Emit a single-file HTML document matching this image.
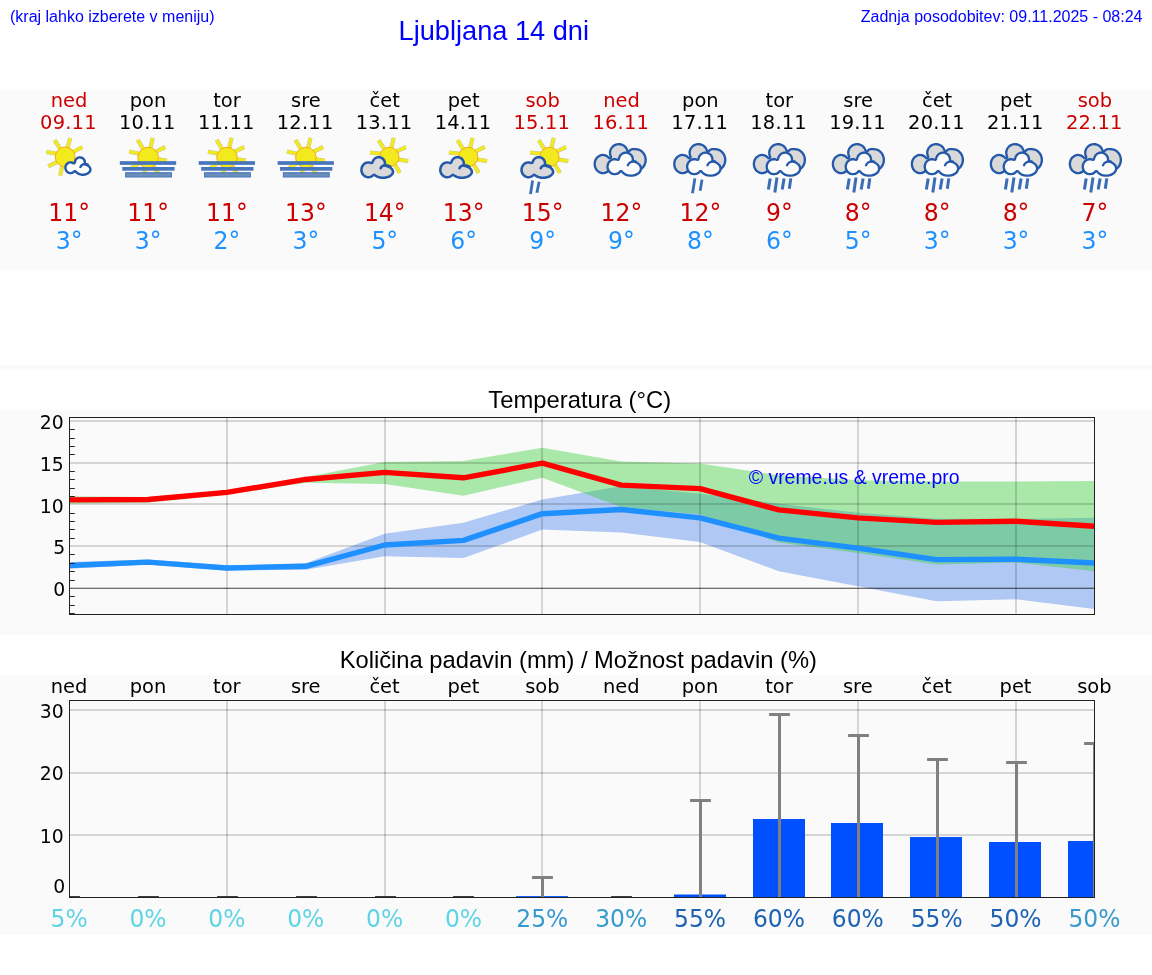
<!DOCTYPE html>
<html lang="sl"><head><meta charset="utf-8"><title>Ljubljana 14 dni</title>
<style>html,body{margin:0;padding:0;background:#fff;overflow:hidden}svg{display:block;will-change:transform}.dj{font-family:"DejaVu Sans","Liberation Sans",sans-serif}.ls{font-family:"Liberation Sans",Arial,sans-serif}</style></head><body>
<svg width="1152" height="975" viewBox="0 0 1152 975">
<rect x="0" y="90" width="1152" height="180" fill="#fafafa"/>
<rect x="0" y="365" width="1152" height="5" fill="#fafafa"/>
<rect x="0" y="410" width="1152" height="225" fill="#fafafa"/>
<rect x="0" y="675" width="1152" height="260" fill="#fafafa"/>
<text class="ls" x="10" y="21.5" font-size="16" fill="#0000ff">(kraj lahko izberete v meniju)</text>
<text class="ls" x="493.8" y="39.5" font-size="27.2" fill="#0000ff" text-anchor="middle">Ljubljana 14 dni</text>
<text class="ls" x="1142.5" y="21.5" font-size="16" fill="#0000ff" text-anchor="end">Zadnja posodobitev: 09.11.2025 - 08:24</text>
<text class="dj" x="69.12" y="107.2" font-size="19.44" fill="#cc0000" text-anchor="middle">ned</text>
<text class="dj" x="68.42" y="129.3" font-size="19.44" letter-spacing="0.2" fill="#cc0000" text-anchor="middle">09.11</text>
<text class="dj" transform="translate(69.12 221.1) scale(.966 1)" font-size="24.4" fill="#cc0000" text-anchor="middle">11°</text>
<text class="dj" transform="translate(69.12 248.9) scale(.966 1)" font-size="24.4" fill="#1e90ff" text-anchor="middle">3°</text>
<text class="dj" x="148.03" y="107.2" font-size="19.44" fill="#000000" text-anchor="middle">pon</text>
<text class="dj" x="147.33" y="129.3" font-size="19.44" letter-spacing="0.2" fill="#000000" text-anchor="middle">10.11</text>
<text class="dj" transform="translate(148.03 221.1) scale(.966 1)" font-size="24.4" fill="#cc0000" text-anchor="middle">11°</text>
<text class="dj" transform="translate(148.03 248.9) scale(.966 1)" font-size="24.4" fill="#1e90ff" text-anchor="middle">3°</text>
<text class="dj" x="226.94" y="107.2" font-size="19.44" fill="#000000" text-anchor="middle">tor</text>
<text class="dj" x="226.24" y="129.3" font-size="19.44" letter-spacing="0.2" fill="#000000" text-anchor="middle">11.11</text>
<text class="dj" transform="translate(226.94 221.1) scale(.966 1)" font-size="24.4" fill="#cc0000" text-anchor="middle">11°</text>
<text class="dj" transform="translate(226.94 248.9) scale(.966 1)" font-size="24.4" fill="#1e90ff" text-anchor="middle">2°</text>
<text class="dj" x="305.84" y="107.2" font-size="19.44" fill="#000000" text-anchor="middle">sre</text>
<text class="dj" x="305.14" y="129.3" font-size="19.44" letter-spacing="0.2" fill="#000000" text-anchor="middle">12.11</text>
<text class="dj" transform="translate(305.84 221.1) scale(.966 1)" font-size="24.4" fill="#cc0000" text-anchor="middle">13°</text>
<text class="dj" transform="translate(305.84 248.9) scale(.966 1)" font-size="24.4" fill="#1e90ff" text-anchor="middle">3°</text>
<text class="dj" x="384.75" y="107.2" font-size="19.44" fill="#000000" text-anchor="middle">čet</text>
<text class="dj" x="384.05" y="129.3" font-size="19.44" letter-spacing="0.2" fill="#000000" text-anchor="middle">13.11</text>
<text class="dj" transform="translate(384.75 221.1) scale(.966 1)" font-size="24.4" fill="#cc0000" text-anchor="middle">14°</text>
<text class="dj" transform="translate(384.75 248.9) scale(.966 1)" font-size="24.4" fill="#1e90ff" text-anchor="middle">5°</text>
<text class="dj" x="463.66" y="107.2" font-size="19.44" fill="#000000" text-anchor="middle">pet</text>
<text class="dj" x="462.96" y="129.3" font-size="19.44" letter-spacing="0.2" fill="#000000" text-anchor="middle">14.11</text>
<text class="dj" transform="translate(463.66 221.1) scale(.966 1)" font-size="24.4" fill="#cc0000" text-anchor="middle">13°</text>
<text class="dj" transform="translate(463.66 248.9) scale(.966 1)" font-size="24.4" fill="#1e90ff" text-anchor="middle">6°</text>
<text class="dj" x="542.57" y="107.2" font-size="19.44" fill="#cc0000" text-anchor="middle">sob</text>
<text class="dj" x="541.87" y="129.3" font-size="19.44" letter-spacing="0.2" fill="#cc0000" text-anchor="middle">15.11</text>
<text class="dj" transform="translate(542.57 221.1) scale(.966 1)" font-size="24.4" fill="#cc0000" text-anchor="middle">15°</text>
<text class="dj" transform="translate(542.57 248.9) scale(.966 1)" font-size="24.4" fill="#1e90ff" text-anchor="middle">9°</text>
<text class="dj" x="621.47" y="107.2" font-size="19.44" fill="#cc0000" text-anchor="middle">ned</text>
<text class="dj" x="620.77" y="129.3" font-size="19.44" letter-spacing="0.2" fill="#cc0000" text-anchor="middle">16.11</text>
<text class="dj" transform="translate(621.47 221.1) scale(.966 1)" font-size="24.4" fill="#cc0000" text-anchor="middle">12°</text>
<text class="dj" transform="translate(621.47 248.9) scale(.966 1)" font-size="24.4" fill="#1e90ff" text-anchor="middle">9°</text>
<text class="dj" x="700.38" y="107.2" font-size="19.44" fill="#000000" text-anchor="middle">pon</text>
<text class="dj" x="699.68" y="129.3" font-size="19.44" letter-spacing="0.2" fill="#000000" text-anchor="middle">17.11</text>
<text class="dj" transform="translate(700.38 221.1) scale(.966 1)" font-size="24.4" fill="#cc0000" text-anchor="middle">12°</text>
<text class="dj" transform="translate(700.38 248.9) scale(.966 1)" font-size="24.4" fill="#1e90ff" text-anchor="middle">8°</text>
<text class="dj" x="779.29" y="107.2" font-size="19.44" fill="#000000" text-anchor="middle">tor</text>
<text class="dj" x="778.59" y="129.3" font-size="19.44" letter-spacing="0.2" fill="#000000" text-anchor="middle">18.11</text>
<text class="dj" transform="translate(779.29 221.1) scale(.966 1)" font-size="24.4" fill="#cc0000" text-anchor="middle">9°</text>
<text class="dj" transform="translate(779.29 248.9) scale(.966 1)" font-size="24.4" fill="#1e90ff" text-anchor="middle">6°</text>
<text class="dj" x="858.20" y="107.2" font-size="19.44" fill="#000000" text-anchor="middle">sre</text>
<text class="dj" x="857.50" y="129.3" font-size="19.44" letter-spacing="0.2" fill="#000000" text-anchor="middle">19.11</text>
<text class="dj" transform="translate(858.20 221.1) scale(.966 1)" font-size="24.4" fill="#cc0000" text-anchor="middle">8°</text>
<text class="dj" transform="translate(858.20 248.9) scale(.966 1)" font-size="24.4" fill="#1e90ff" text-anchor="middle">5°</text>
<text class="dj" x="937.10" y="107.2" font-size="19.44" fill="#000000" text-anchor="middle">čet</text>
<text class="dj" x="936.40" y="129.3" font-size="19.44" letter-spacing="0.2" fill="#000000" text-anchor="middle">20.11</text>
<text class="dj" transform="translate(937.10 221.1) scale(.966 1)" font-size="24.4" fill="#cc0000" text-anchor="middle">8°</text>
<text class="dj" transform="translate(937.10 248.9) scale(.966 1)" font-size="24.4" fill="#1e90ff" text-anchor="middle">3°</text>
<text class="dj" x="1016.01" y="107.2" font-size="19.44" fill="#000000" text-anchor="middle">pet</text>
<text class="dj" x="1015.31" y="129.3" font-size="19.44" letter-spacing="0.2" fill="#000000" text-anchor="middle">21.11</text>
<text class="dj" transform="translate(1016.01 221.1) scale(.966 1)" font-size="24.4" fill="#cc0000" text-anchor="middle">8°</text>
<text class="dj" transform="translate(1016.01 248.9) scale(.966 1)" font-size="24.4" fill="#1e90ff" text-anchor="middle">3°</text>
<text class="dj" x="1094.92" y="107.2" font-size="19.44" fill="#cc0000" text-anchor="middle">sob</text>
<text class="dj" x="1094.22" y="129.3" font-size="19.44" letter-spacing="0.2" fill="#cc0000" text-anchor="middle">22.11</text>
<text class="dj" transform="translate(1094.92 221.1) scale(.966 1)" font-size="24.4" fill="#cc0000" text-anchor="middle">7°</text>
<text class="dj" transform="translate(1094.92 248.9) scale(.966 1)" font-size="24.4" fill="#1e90ff" text-anchor="middle">3°</text>
<g transform="translate(39.00 135)"><line x1="21.13" y1="13.56" x2="15.69" y2="5.23" stroke="#c4c6b4" stroke-width="4.2"/><line x1="28.57" y1="13.46" x2="31.08" y2="3.08" stroke="#c4c6b4" stroke-width="4.2"/><line x1="34.06" y1="17.02" x2="43.38" y2="12.00" stroke="#c4c6b4" stroke-width="4.2"/><line x1="18.09" y1="18.71" x2="7.38" y2="16.92" stroke="#c4c6b4" stroke-width="4.2"/><line x1="19.19" y1="26.41" x2="9.23" y2="31.38" stroke="#c4c6b4" stroke-width="4.2"/><line x1="23.37" y1="29.91" x2="21.23" y2="40.62" stroke="#c4c6b4" stroke-width="4.2"/><line x1="21.13" y1="13.56" x2="15.69" y2="5.23" stroke="#f2ea1c" stroke-width="3.2"/><line x1="28.57" y1="13.46" x2="31.08" y2="3.08" stroke="#f2ea1c" stroke-width="3.2"/><line x1="34.06" y1="17.02" x2="43.38" y2="12.00" stroke="#f2ea1c" stroke-width="3.2"/><line x1="18.09" y1="18.71" x2="7.38" y2="16.92" stroke="#f2ea1c" stroke-width="3.2"/><line x1="19.19" y1="26.41" x2="9.23" y2="31.38" stroke="#f2ea1c" stroke-width="3.2"/><line x1="23.37" y1="29.91" x2="21.23" y2="40.62" stroke="#f2ea1c" stroke-width="3.2"/><circle cx="26.15" cy="21.85" r="9.9" fill="#f2ea1c" stroke="#f5a81c" stroke-width="1"/><path d="M47.1,27.2 46.9,25.8 46.4,24.5 45.5,23.3 45.0,22.8 44.3,22.3 43.1,21.6 41.7,21.3 40.9,21.2 40.1,21.3 38.8,21.6 38.0,22.0 37.2,22.5 36.4,23.2 35.9,23.8 35.4,24.7 35.1,25.4 34.9,26.2 34.8,27.1 33.7,26.6 32.7,26.3 31.7,26.2 30.7,26.2 29.7,26.4 28.7,26.8 27.9,27.4 27.1,28.1 26.5,28.7 26.0,29.6 25.6,30.6 25.4,31.5 25.2,32.3 25.2,33.2 25.4,34.0 25.6,35.1 26.3,36.4 26.8,37.1 27.4,37.7 28.0,38.2 28.7,38.6 30.1,39.2 30.9,39.3 31.7,39.3 32.5,39.2 33.3,39.0 34.1,38.7 34.8,38.3 36.0,37.4 36.8,38.4 38.0,39.3 39.4,40.1 41.0,40.6 42.7,40.9 44.4,40.9 46.1,40.7 47.7,40.3 48.7,39.8 49.8,39.2 50.6,38.6 51.4,37.7 52.1,36.7 52.4,35.9 52.6,35.1 52.6,34.3 52.5,33.4 52.2,32.6 51.8,31.8 51.4,31.2 50.6,30.4 49.6,29.6 48.5,29.0 47.0,28.4Z" fill="#2458a8"/><path d="M33.7,36.2 34.8,35.3 35.4,35.0 36.1,35.0 36.6,35.1 37.4,35.5 38.4,36.5 39.0,37.1 40.4,37.8 41.4,38.2 42.4,38.4 43.6,38.5 44.7,38.5 45.8,38.3 46.9,38.0 47.8,37.6 48.8,37.0 49.5,36.3 49.9,35.6 50.2,35.0 50.2,34.3 50.1,33.6 49.8,33.1 49.4,32.5 48.9,32.0 47.6,31.2 45.9,30.6 45.5,30.3 45.0,29.8 44.8,29.4 44.6,28.7 44.7,27.3 44.5,26.4 44.2,25.6 43.7,24.8 43.0,24.3 42.2,23.9 41.4,23.7 40.6,23.6 39.8,23.8 39.2,24.1 38.5,24.5 38.0,25.0 37.6,25.6 37.4,26.2 37.1,27.7 36.9,28.2 36.5,28.7 36.0,29.2 35.3,29.5 34.6,29.5 33.9,29.4 33.0,28.9 32.4,28.7 31.6,28.6 30.8,28.6 29.9,28.9 29.2,29.4 28.5,30.0 28.1,30.7 27.8,31.5 27.7,32.2 27.6,32.9 27.7,33.6 27.9,34.2 28.2,35.0 28.6,35.5 29.2,36.1 29.7,36.5 30.4,36.8 31.0,36.9 31.8,36.9 32.5,36.8 33.1,36.6Z" fill="#ffffff"/><path d="M48.62,29.42 C45.54,28.43 42.46,29.42 41.35,32.00" fill="none" stroke="#2458a8" stroke-width="2.4" stroke-linecap="round"/></g>
<g transform="translate(118.00 135)"><line x1="21.84" y1="27.79" x2="13.36" y2="33.09" stroke="#c4c6b4" stroke-width="4.2"/><line x1="27.78" y1="32.11" x2="25.36" y2="41.81" stroke="#c4c6b4" stroke-width="4.2"/><line x1="35.34" y1="30.91" x2="40.64" y2="39.39" stroke="#c4c6b4" stroke-width="4.2"/><line x1="32.27" y1="13.46" x2="34.77" y2="2.77" stroke="#c4c6b4" stroke-width="4.2"/><line x1="25.08" y1="13.90" x2="19.69" y2="4.92" stroke="#c4c6b4" stroke-width="4.2"/><line x1="21.78" y1="18.76" x2="11.08" y2="16.62" stroke="#c4c6b4" stroke-width="4.2"/><line x1="38.04" y1="16.67" x2="47.38" y2="12.00" stroke="#c4c6b4" stroke-width="4.2"/><line x1="39.13" y1="24.09" x2="48.92" y2="25.54" stroke="#c4c6b4" stroke-width="4.2"/><line x1="21.84" y1="27.79" x2="13.36" y2="33.09" stroke="#f2ea1c" stroke-width="3.2"/><line x1="27.78" y1="32.11" x2="25.36" y2="41.81" stroke="#f2ea1c" stroke-width="3.2"/><line x1="35.34" y1="30.91" x2="40.64" y2="39.39" stroke="#f2ea1c" stroke-width="3.2"/><line x1="32.27" y1="13.46" x2="34.77" y2="2.77" stroke="#f2ea1c" stroke-width="3.2"/><line x1="25.08" y1="13.90" x2="19.69" y2="4.92" stroke="#f2ea1c" stroke-width="3.2"/><line x1="21.78" y1="18.76" x2="11.08" y2="16.62" stroke="#f2ea1c" stroke-width="3.2"/><line x1="38.04" y1="16.67" x2="47.38" y2="12.00" stroke="#f2ea1c" stroke-width="3.2"/><line x1="39.13" y1="24.09" x2="48.92" y2="25.54" stroke="#f2ea1c" stroke-width="3.2"/><circle cx="30.15" cy="22.60" r="10.3" fill="#f2ea1c" stroke="#f5a81c" stroke-width="1"/><rect x="1.85" y="26.15" width="56.3" height="3.7" fill="#4876bc"/><rect x="4.3" y="32.0" width="52.3" height="3.7" fill="#4876bc"/><rect x="7.6" y="37.7" width="45.9" height="4.3" fill="#6a8ebc" stroke="#4876bc" stroke-width="1"/></g>
<g transform="translate(196.87 135)"><line x1="21.84" y1="27.79" x2="13.36" y2="33.09" stroke="#c4c6b4" stroke-width="4.2"/><line x1="27.78" y1="32.11" x2="25.36" y2="41.81" stroke="#c4c6b4" stroke-width="4.2"/><line x1="35.34" y1="30.91" x2="40.64" y2="39.39" stroke="#c4c6b4" stroke-width="4.2"/><line x1="32.27" y1="13.46" x2="34.77" y2="2.77" stroke="#c4c6b4" stroke-width="4.2"/><line x1="25.08" y1="13.90" x2="19.69" y2="4.92" stroke="#c4c6b4" stroke-width="4.2"/><line x1="21.78" y1="18.76" x2="11.08" y2="16.62" stroke="#c4c6b4" stroke-width="4.2"/><line x1="38.04" y1="16.67" x2="47.38" y2="12.00" stroke="#c4c6b4" stroke-width="4.2"/><line x1="39.13" y1="24.09" x2="48.92" y2="25.54" stroke="#c4c6b4" stroke-width="4.2"/><line x1="21.84" y1="27.79" x2="13.36" y2="33.09" stroke="#f2ea1c" stroke-width="3.2"/><line x1="27.78" y1="32.11" x2="25.36" y2="41.81" stroke="#f2ea1c" stroke-width="3.2"/><line x1="35.34" y1="30.91" x2="40.64" y2="39.39" stroke="#f2ea1c" stroke-width="3.2"/><line x1="32.27" y1="13.46" x2="34.77" y2="2.77" stroke="#f2ea1c" stroke-width="3.2"/><line x1="25.08" y1="13.90" x2="19.69" y2="4.92" stroke="#f2ea1c" stroke-width="3.2"/><line x1="21.78" y1="18.76" x2="11.08" y2="16.62" stroke="#f2ea1c" stroke-width="3.2"/><line x1="38.04" y1="16.67" x2="47.38" y2="12.00" stroke="#f2ea1c" stroke-width="3.2"/><line x1="39.13" y1="24.09" x2="48.92" y2="25.54" stroke="#f2ea1c" stroke-width="3.2"/><circle cx="30.15" cy="22.60" r="10.3" fill="#f2ea1c" stroke="#f5a81c" stroke-width="1"/><rect x="1.85" y="26.15" width="56.3" height="3.7" fill="#4876bc"/><rect x="4.3" y="32.0" width="52.3" height="3.7" fill="#4876bc"/><rect x="7.6" y="37.7" width="45.9" height="4.3" fill="#6a8ebc" stroke="#4876bc" stroke-width="1"/></g>
<g transform="translate(275.74 135)"><line x1="21.84" y1="27.79" x2="13.36" y2="33.09" stroke="#c4c6b4" stroke-width="4.2"/><line x1="27.78" y1="32.11" x2="25.36" y2="41.81" stroke="#c4c6b4" stroke-width="4.2"/><line x1="35.34" y1="30.91" x2="40.64" y2="39.39" stroke="#c4c6b4" stroke-width="4.2"/><line x1="32.27" y1="13.46" x2="34.77" y2="2.77" stroke="#c4c6b4" stroke-width="4.2"/><line x1="25.08" y1="13.90" x2="19.69" y2="4.92" stroke="#c4c6b4" stroke-width="4.2"/><line x1="21.78" y1="18.76" x2="11.08" y2="16.62" stroke="#c4c6b4" stroke-width="4.2"/><line x1="38.04" y1="16.67" x2="47.38" y2="12.00" stroke="#c4c6b4" stroke-width="4.2"/><line x1="39.13" y1="24.09" x2="48.92" y2="25.54" stroke="#c4c6b4" stroke-width="4.2"/><line x1="21.84" y1="27.79" x2="13.36" y2="33.09" stroke="#f2ea1c" stroke-width="3.2"/><line x1="27.78" y1="32.11" x2="25.36" y2="41.81" stroke="#f2ea1c" stroke-width="3.2"/><line x1="35.34" y1="30.91" x2="40.64" y2="39.39" stroke="#f2ea1c" stroke-width="3.2"/><line x1="32.27" y1="13.46" x2="34.77" y2="2.77" stroke="#f2ea1c" stroke-width="3.2"/><line x1="25.08" y1="13.90" x2="19.69" y2="4.92" stroke="#f2ea1c" stroke-width="3.2"/><line x1="21.78" y1="18.76" x2="11.08" y2="16.62" stroke="#f2ea1c" stroke-width="3.2"/><line x1="38.04" y1="16.67" x2="47.38" y2="12.00" stroke="#f2ea1c" stroke-width="3.2"/><line x1="39.13" y1="24.09" x2="48.92" y2="25.54" stroke="#f2ea1c" stroke-width="3.2"/><circle cx="30.15" cy="22.60" r="10.3" fill="#f2ea1c" stroke="#f5a81c" stroke-width="1"/><rect x="1.85" y="26.15" width="56.3" height="3.7" fill="#4876bc"/><rect x="4.3" y="32.0" width="52.3" height="3.7" fill="#4876bc"/><rect x="7.6" y="37.7" width="45.9" height="4.3" fill="#6a8ebc" stroke="#4876bc" stroke-width="1"/></g>
<g transform="translate(354.00 135)"><line x1="37.20" y1="13.46" x2="39.69" y2="2.77" stroke="#c4c6b4" stroke-width="4.2"/><line x1="30.35" y1="14.19" x2="24.62" y2="5.23" stroke="#c4c6b4" stroke-width="4.2"/><line x1="26.72" y1="18.61" x2="16.00" y2="17.54" stroke="#c4c6b4" stroke-width="4.2"/><line x1="42.64" y1="16.32" x2="52.00" y2="12.00" stroke="#c4c6b4" stroke-width="4.2"/><line x1="43.44" y1="24.37" x2="54.15" y2="26.15" stroke="#c4c6b4" stroke-width="4.2"/><line x1="40.46" y1="28.87" x2="45.85" y2="37.85" stroke="#c4c6b4" stroke-width="4.2"/><line x1="37.20" y1="13.46" x2="39.69" y2="2.77" stroke="#f2ea1c" stroke-width="3.2"/><line x1="30.35" y1="14.19" x2="24.62" y2="5.23" stroke="#f2ea1c" stroke-width="3.2"/><line x1="26.72" y1="18.61" x2="16.00" y2="17.54" stroke="#f2ea1c" stroke-width="3.2"/><line x1="42.64" y1="16.32" x2="52.00" y2="12.00" stroke="#f2ea1c" stroke-width="3.2"/><line x1="43.44" y1="24.37" x2="54.15" y2="26.15" stroke="#f2ea1c" stroke-width="3.2"/><line x1="40.46" y1="28.87" x2="45.85" y2="37.85" stroke="#f2ea1c" stroke-width="3.2"/><circle cx="35.30" cy="22.00" r="9.7" fill="#f2ea1c" stroke="#f5a81c" stroke-width="1"/><path d="M32.2,27.9 31.9,26.3 31.2,24.7 30.2,23.3 29.4,22.6 28.6,22.1 27.8,21.6 26.9,21.2 25.2,20.9 23.5,21.0 21.8,21.5 20.9,21.9 20.1,22.5 18.9,23.7 17.9,25.1 17.4,26.7 16.3,26.4 14.9,26.2 13.6,26.2 12.5,26.4 11.2,26.8 10.3,27.3 9.2,28.1 8.4,28.9 7.7,29.8 7.0,31.0 6.6,32.0 6.3,33.4 6.2,34.8 6.2,36.0 6.4,37.1 6.8,38.2 7.3,39.2 7.7,39.9 8.4,40.8 9.2,41.5 10.0,42.2 11.0,42.7 12.0,43.1 13.1,43.4 14.1,43.5 14.9,43.5 16.0,43.3 16.8,43.1 17.8,42.7 18.5,42.3 19.4,41.7 20.1,41.1 21.3,42.0 23.1,42.9 25.1,43.5 26.8,43.9 29.0,44.0 31.2,43.9 33.0,43.5 35.0,42.9 36.2,42.4 37.5,41.5 38.6,40.6 39.3,39.7 39.8,38.8 40.2,37.9 40.3,36.7 40.2,35.8 39.9,34.9 39.3,33.7 38.6,32.9 37.5,32.0 36.2,31.1 35.0,30.6 33.7,30.1 32.1,29.7 32.2,28.9Z" fill="#2458a8"/><path d="M20.2,26.2 19.6,27.9 19.1,28.5 18.5,28.9 17.8,29.2 16.9,29.2 15.7,28.8 14.6,28.7 13.5,28.7 12.4,29.0 11.6,29.5 10.8,30.0 10.1,30.7 9.7,31.4 9.1,32.4 8.8,33.6 8.7,34.8 8.8,36.1 9.1,37.2 9.7,38.3 10.4,39.2 11.4,40.1 12.2,40.6 13.3,40.9 14.2,41.0 15.3,40.9 16.2,40.7 17.1,40.3 17.7,39.9 18.7,39.1 19.1,38.8 19.6,38.7 20.4,38.6 20.8,38.7 21.3,38.9 22.4,39.8 23.3,40.3 25.1,41.0 26.6,41.3 27.8,41.4 29.0,41.5 30.3,41.4 31.5,41.3 32.7,41.0 33.8,40.7 34.8,40.3 35.7,39.8 36.4,39.2 36.9,38.7 37.4,38.0 37.8,37.1 37.7,36.2 37.3,35.3 36.5,34.4 35.5,33.6 34.3,33.0 33.0,32.5 31.4,32.1 30.9,32.0 30.3,31.5 30.0,31.2 29.7,30.5 29.6,30.0 29.7,28.1 29.6,27.5 29.4,26.7 29.0,25.9 28.5,25.3 28.0,24.7 27.3,24.2 26.1,23.6 25.0,23.4 23.9,23.5 22.8,23.8 21.6,24.5 20.8,25.3Z" fill="#d9d9d9"/><path d="M36.31,31.51 C33.23,29.42 28.00,29.54 26.58,33.23" fill="none" stroke="#2458a8" stroke-width="2.5" stroke-linecap="round"/></g>
<g transform="translate(432.87 135)"><line x1="37.20" y1="13.46" x2="39.69" y2="2.77" stroke="#c4c6b4" stroke-width="4.2"/><line x1="30.35" y1="14.19" x2="24.62" y2="5.23" stroke="#c4c6b4" stroke-width="4.2"/><line x1="26.72" y1="18.61" x2="16.00" y2="17.54" stroke="#c4c6b4" stroke-width="4.2"/><line x1="42.64" y1="16.32" x2="52.00" y2="12.00" stroke="#c4c6b4" stroke-width="4.2"/><line x1="43.44" y1="24.37" x2="54.15" y2="26.15" stroke="#c4c6b4" stroke-width="4.2"/><line x1="40.46" y1="28.87" x2="45.85" y2="37.85" stroke="#c4c6b4" stroke-width="4.2"/><line x1="37.20" y1="13.46" x2="39.69" y2="2.77" stroke="#f2ea1c" stroke-width="3.2"/><line x1="30.35" y1="14.19" x2="24.62" y2="5.23" stroke="#f2ea1c" stroke-width="3.2"/><line x1="26.72" y1="18.61" x2="16.00" y2="17.54" stroke="#f2ea1c" stroke-width="3.2"/><line x1="42.64" y1="16.32" x2="52.00" y2="12.00" stroke="#f2ea1c" stroke-width="3.2"/><line x1="43.44" y1="24.37" x2="54.15" y2="26.15" stroke="#f2ea1c" stroke-width="3.2"/><line x1="40.46" y1="28.87" x2="45.85" y2="37.85" stroke="#f2ea1c" stroke-width="3.2"/><circle cx="35.30" cy="22.00" r="9.7" fill="#f2ea1c" stroke="#f5a81c" stroke-width="1"/><path d="M32.2,27.9 31.9,26.3 31.2,24.7 30.2,23.3 29.4,22.6 28.6,22.1 27.8,21.6 26.9,21.2 25.2,20.9 23.5,21.0 21.8,21.5 20.9,21.9 20.1,22.5 18.9,23.7 17.9,25.1 17.4,26.7 16.3,26.4 14.9,26.2 13.6,26.2 12.5,26.4 11.2,26.8 10.3,27.3 9.2,28.1 8.4,28.9 7.7,29.8 7.0,31.0 6.6,32.0 6.3,33.4 6.2,34.8 6.2,36.0 6.4,37.1 6.8,38.2 7.3,39.2 7.7,39.9 8.4,40.8 9.2,41.5 10.0,42.2 11.0,42.7 12.0,43.1 13.1,43.4 14.1,43.5 14.9,43.5 16.0,43.3 16.8,43.1 17.8,42.7 18.5,42.3 19.4,41.7 20.1,41.1 21.3,42.0 23.1,42.9 25.1,43.5 26.8,43.9 29.0,44.0 31.2,43.9 33.0,43.5 35.0,42.9 36.2,42.4 37.5,41.5 38.6,40.6 39.3,39.7 39.8,38.8 40.2,37.9 40.3,36.7 40.2,35.8 39.9,34.9 39.3,33.7 38.6,32.9 37.5,32.0 36.2,31.1 35.0,30.6 33.7,30.1 32.1,29.7 32.2,28.9Z" fill="#2458a8"/><path d="M20.2,26.2 19.6,27.9 19.1,28.5 18.5,28.9 17.8,29.2 16.9,29.2 15.7,28.8 14.6,28.7 13.5,28.7 12.4,29.0 11.6,29.5 10.8,30.0 10.1,30.7 9.7,31.4 9.1,32.4 8.8,33.6 8.7,34.8 8.8,36.1 9.1,37.2 9.7,38.3 10.4,39.2 11.4,40.1 12.2,40.6 13.3,40.9 14.2,41.0 15.3,40.9 16.2,40.7 17.1,40.3 17.7,39.9 18.7,39.1 19.1,38.8 19.6,38.7 20.4,38.6 20.8,38.7 21.3,38.9 22.4,39.8 23.3,40.3 25.1,41.0 26.6,41.3 27.8,41.4 29.0,41.5 30.3,41.4 31.5,41.3 32.7,41.0 33.8,40.7 34.8,40.3 35.7,39.8 36.4,39.2 36.9,38.7 37.4,38.0 37.8,37.1 37.7,36.2 37.3,35.3 36.5,34.4 35.5,33.6 34.3,33.0 33.0,32.5 31.4,32.1 30.9,32.0 30.3,31.5 30.0,31.2 29.7,30.5 29.6,30.0 29.7,28.1 29.6,27.5 29.4,26.7 29.0,25.9 28.5,25.3 28.0,24.7 27.3,24.2 26.1,23.6 25.0,23.4 23.9,23.5 22.8,23.8 21.6,24.5 20.8,25.3Z" fill="#d9d9d9"/><path d="M36.31,31.51 C33.23,29.42 28.00,29.54 26.58,33.23" fill="none" stroke="#2458a8" stroke-width="2.5" stroke-linecap="round"/></g>
<g transform="translate(512.00 135)"><line x1="39.30" y1="13.46" x2="41.79" y2="2.77" stroke="#c4c6b4" stroke-width="4.2"/><line x1="32.45" y1="14.19" x2="26.72" y2="5.23" stroke="#c4c6b4" stroke-width="4.2"/><line x1="28.82" y1="18.61" x2="18.10" y2="17.54" stroke="#c4c6b4" stroke-width="4.2"/><line x1="44.74" y1="16.32" x2="54.10" y2="12.00" stroke="#c4c6b4" stroke-width="4.2"/><line x1="45.54" y1="24.37" x2="56.25" y2="26.15" stroke="#c4c6b4" stroke-width="4.2"/><line x1="42.56" y1="28.87" x2="47.95" y2="37.85" stroke="#c4c6b4" stroke-width="4.2"/><line x1="39.30" y1="13.46" x2="41.79" y2="2.77" stroke="#f2ea1c" stroke-width="3.2"/><line x1="32.45" y1="14.19" x2="26.72" y2="5.23" stroke="#f2ea1c" stroke-width="3.2"/><line x1="28.82" y1="18.61" x2="18.10" y2="17.54" stroke="#f2ea1c" stroke-width="3.2"/><line x1="44.74" y1="16.32" x2="54.10" y2="12.00" stroke="#f2ea1c" stroke-width="3.2"/><line x1="45.54" y1="24.37" x2="56.25" y2="26.15" stroke="#f2ea1c" stroke-width="3.2"/><line x1="42.56" y1="28.87" x2="47.95" y2="37.85" stroke="#f2ea1c" stroke-width="3.2"/><circle cx="37.40" cy="22.00" r="9.7" fill="#f2ea1c" stroke="#f5a81c" stroke-width="1"/><path d="M34.3,27.9 34.0,26.3 33.3,24.7 32.3,23.3 31.5,22.6 30.7,22.1 29.9,21.6 29.0,21.2 27.3,20.9 25.6,21.0 23.9,21.5 23.0,21.9 22.2,22.5 21.0,23.7 20.0,25.1 19.5,26.7 18.4,26.4 17.0,26.2 15.7,26.2 14.6,26.4 13.3,26.8 12.4,27.3 11.3,28.1 10.5,28.9 9.8,29.8 9.1,31.0 8.7,32.0 8.4,33.4 8.3,34.8 8.3,36.0 8.5,37.1 8.9,38.2 9.4,39.2 9.8,39.9 10.5,40.8 11.3,41.5 12.1,42.2 13.1,42.7 14.1,43.1 15.2,43.4 16.2,43.5 17.0,43.5 18.1,43.3 18.9,43.1 19.9,42.7 20.6,42.3 21.5,41.7 22.2,41.1 23.4,42.0 25.2,42.9 27.2,43.5 28.9,43.9 31.1,44.0 33.3,43.9 35.1,43.5 37.1,42.9 38.3,42.4 39.6,41.5 40.7,40.6 41.4,39.7 41.9,38.8 42.3,37.9 42.4,36.7 42.3,35.8 42.0,34.9 41.4,33.7 40.7,32.9 39.6,32.0 38.3,31.1 37.1,30.6 35.8,30.1 34.2,29.7 34.3,28.9Z" fill="#2458a8"/><path d="M22.3,26.2 21.7,27.9 21.2,28.5 20.6,28.9 19.9,29.2 19.0,29.2 17.8,28.8 16.7,28.7 15.6,28.7 14.5,29.0 13.7,29.5 12.9,30.0 12.2,30.7 11.8,31.4 11.2,32.4 10.9,33.6 10.8,34.8 10.9,36.1 11.2,37.2 11.8,38.3 12.5,39.2 13.5,40.1 14.3,40.6 15.4,40.9 16.3,41.0 17.4,40.9 18.3,40.7 19.2,40.3 19.8,39.9 20.8,39.1 21.2,38.8 21.7,38.7 22.5,38.6 22.9,38.7 23.4,38.9 24.5,39.8 25.4,40.3 27.2,41.0 28.7,41.3 29.9,41.4 31.1,41.5 32.4,41.4 33.6,41.3 34.8,41.0 35.9,40.7 36.9,40.3 37.8,39.8 38.5,39.2 39.0,38.7 39.5,38.0 39.9,37.1 39.8,36.2 39.4,35.3 38.6,34.4 37.6,33.6 36.4,33.0 35.1,32.5 33.5,32.1 33.0,32.0 32.4,31.5 32.1,31.2 31.8,30.5 31.7,30.0 31.8,28.1 31.7,27.5 31.5,26.7 31.1,25.9 30.6,25.3 30.1,24.7 29.4,24.2 28.2,23.6 27.1,23.4 26.0,23.5 24.9,23.8 23.7,24.5 22.9,25.3Z" fill="#d9d9d9"/><path d="M38.41,31.51 C35.33,29.42 30.10,29.54 28.68,33.23" fill="none" stroke="#2458a8" stroke-width="2.5" stroke-linecap="round"/><line x1="20.6" y1="45.5" x2="18.5" y2="59.1" stroke="#3a6cb8" stroke-width="2.8"/><line x1="27.1" y1="46.8" x2="24.9" y2="57.8" stroke="#3a6cb8" stroke-width="2.8"/></g>
<g transform="translate(591.00 135)"><path d="M37.4,15.3 37.0,14.1 36.4,12.9 35.9,12.1 35.1,11.1 33.6,9.8 32.5,9.2 31.6,8.7 30.7,8.4 29.4,8.1 28.5,8.0 27.2,8.0 25.9,8.2 24.9,8.4 24.0,8.7 22.8,9.3 21.2,10.4 19.9,11.9 18.9,13.5 18.3,15.0 17.9,16.6 17.9,18.5 18.2,20.4 18.8,22.1 18.8,22.2 18.0,21.4 17.1,20.6 15.5,19.6 14.6,19.3 13.4,19.0 11.6,18.8 9.8,19.1 8.6,19.5 7.7,19.9 6.2,20.9 5.5,21.6 4.6,22.6 3.8,23.9 3.2,25.1 2.8,26.7 2.5,28.4 2.6,30.0 2.8,31.7 3.4,33.3 3.9,34.4 4.6,35.5 5.5,36.5 6.4,37.3 7.5,38.1 8.3,38.5 9.5,38.9 10.7,39.2 11.9,39.3 13.1,39.2 14.3,38.9 15.5,38.5 16.6,37.9 17.6,37.2 18.5,36.3 19.3,35.3 20.1,34.0 21.9,34.7 23.7,35.3 26.1,35.6 28.1,35.7 30.1,35.5 32.4,35.1 34.5,34.3 36.2,33.5 37.0,34.2 37.9,34.9 38.9,35.5 39.9,36.0 41.0,36.4 42.1,36.7 43.9,36.9 45.8,36.8 47.3,36.5 49.1,35.9 50.4,35.1 51.3,34.4 52.2,33.7 53.0,32.8 53.7,31.9 54.3,30.9 54.9,29.5 55.3,28.4 55.6,27.3 55.8,26.1 55.8,24.9 55.8,23.7 55.6,22.6 55.3,21.4 54.9,20.3 54.5,19.3 53.9,18.3 53.2,17.3 52.4,16.4 51.6,15.6 50.7,14.9 49.7,14.3 48.7,13.8 47.6,13.4 46.6,13.2 44.7,12.9 43.1,13.0 42.0,12.9 41.0,13.0 39.9,13.4 39.1,13.8 38.2,14.5Z" fill="#2458a8"/><path d="M35.4,16.3 34.5,14.1 33.4,12.7 32.1,11.6 30.5,10.8 28.8,10.4 27.1,10.3 25.3,10.7 23.8,11.4 22.7,12.2 21.7,13.3 20.9,14.5 20.4,15.9 20.2,17.4 20.2,18.8 20.5,20.0 21.1,21.6 21.1,22.2 21.0,22.8 20.9,23.2 20.6,23.6 20.1,24.0 19.7,24.3 19.0,24.5 18.6,24.5 17.9,24.3 17.3,24.0 15.9,22.6 14.9,21.9 13.7,21.4 12.1,21.1 10.5,21.3 9.0,21.8 7.7,22.7 6.6,23.8 5.9,24.8 5.4,26.0 5.0,27.2 4.8,28.5 4.9,29.8 5.1,31.1 5.5,32.4 6.1,33.5 7.1,34.9 7.8,35.5 8.6,36.1 9.5,36.5 10.3,36.8 11.2,36.9 12.1,37.0 13.0,36.9 13.9,36.6 14.7,36.3 15.5,35.8 16.3,35.2 17.0,34.5 17.6,33.7 18.4,32.4 19.2,31.9 19.8,31.7 20.7,31.8 22.6,32.6 24.6,33.1 26.3,33.3 28.0,33.4 29.8,33.3 31.8,32.9 33.6,32.2 35.4,31.3 35.8,31.2 36.5,31.2 36.9,31.3 37.5,31.6 39.0,32.8 40.5,33.8 42.2,34.4 44.0,34.6 45.8,34.5 47.5,34.0 49.1,33.2 50.3,32.2 51.2,31.4 51.8,30.6 52.7,29.0 53.3,27.1 53.5,25.2 53.4,23.3 52.9,21.5 52.1,19.8 51.0,18.3 49.9,17.2 48.6,16.3 47.2,15.7 45.8,15.4 44.3,15.2 43.1,15.3 42.0,15.2 41.2,15.3 40.6,15.6 40.1,15.9 38.7,17.2 38.1,17.5 37.6,17.6 36.7,17.5 36.0,17.0Z" fill="#d9d9d9"/><path d="M43.0,24.3 42.9,23.3 42.7,22.5 42.5,21.8 42.1,20.8 41.6,20.1 41.0,19.3 40.2,18.5 39.4,17.9 38.5,17.3 37.8,17.0 37.0,16.8 36.0,16.6 34.9,16.5 33.8,16.6 32.8,16.8 32.0,17.0 31.1,17.5 30.2,18.0 29.3,18.7 28.4,19.7 27.9,20.6 27.4,21.5 27.0,22.5 26.8,23.7 25.6,23.3 24.2,23.1 22.9,23.1 21.8,23.3 20.8,23.6 19.5,24.2 18.6,24.9 17.6,25.8 16.9,26.7 16.2,27.9 15.8,28.9 15.5,30.0 15.4,31.1 15.4,32.5 15.7,33.9 16.0,35.0 16.5,36.0 17.1,36.9 17.6,37.6 18.4,38.4 19.3,39.0 20.0,39.4 21.0,39.9 22.1,40.1 23.1,40.3 24.2,40.3 25.3,40.1 26.4,39.9 27.4,39.4 28.3,38.9 29.2,38.2 30.1,37.2 30.8,38.2 31.4,38.8 33.0,40.0 34.8,40.9 36.8,41.5 38.9,41.8 41.1,41.8 43.2,41.5 45.2,40.9 46.5,40.3 47.8,39.4 49.0,38.4 49.8,37.5 50.5,36.2 50.9,35.2 51.1,33.8 51.0,32.7 50.8,31.7 50.4,30.6 49.8,29.6 49.0,28.7 47.8,27.7 46.5,26.8 44.9,26.1 43.0,25.5Z" fill="#2458a8"/><path d="M40.7,24.4 40.5,22.9 39.9,21.7 39.1,20.6 38.0,19.7 36.6,19.0 35.3,18.8 33.8,18.9 32.5,19.3 31.2,20.1 30.2,21.2 29.4,22.6 28.9,24.6 28.6,25.2 28.1,25.6 27.5,25.9 26.8,26.0 26.4,26.0 25.2,25.6 24.5,25.4 23.5,25.4 22.7,25.5 21.8,25.7 20.9,26.1 20.1,26.7 19.5,27.2 18.8,28.0 18.3,28.9 18.0,29.8 17.8,30.7 17.7,31.7 17.7,32.5 17.9,33.3 18.2,34.3 19.0,35.6 19.5,36.2 20.1,36.7 21.2,37.5 22.0,37.7 22.7,37.9 23.5,38.0 24.5,38.0 25.2,37.8 26.0,37.5 26.7,37.2 27.3,36.7 28.8,35.3 29.4,35.0 30.1,34.9 30.9,35.1 31.5,35.4 32.8,37.0 34.2,38.0 35.6,38.7 37.0,39.2 39.1,39.5 40.9,39.5 42.7,39.2 44.6,38.6 45.6,38.1 46.6,37.4 47.3,36.8 48.0,35.9 48.5,35.1 48.7,34.2 48.8,33.4 48.6,32.5 48.3,31.6 47.9,31.0 47.2,30.1 46.5,29.5 44.9,28.6 43.8,28.1 42.1,27.6 41.3,27.1 40.9,26.6 40.7,25.9Z" fill="#fcfcfc"/><path d="M44.43,26.34 C41.23,26.15 37.85,27.38 36.80,30.28" fill="none" stroke="#2458a8" stroke-width="2.3" stroke-linecap="round"/></g>
<g transform="translate(670.00 135)"><path d="M38.0,15.3 37.6,14.1 37.0,12.9 36.5,12.1 35.7,11.1 34.2,9.8 33.1,9.2 32.2,8.7 31.3,8.4 30.0,8.1 29.1,8.0 27.8,8.0 26.5,8.2 25.5,8.4 24.6,8.7 23.4,9.3 21.8,10.4 20.5,11.9 19.5,13.5 18.9,15.0 18.5,16.6 18.5,18.5 18.8,20.4 19.4,22.1 19.4,22.2 18.6,21.4 17.7,20.6 16.1,19.6 15.2,19.3 14.0,19.0 12.2,18.8 10.4,19.1 9.2,19.5 8.3,19.9 6.8,20.9 6.1,21.6 5.2,22.6 4.4,23.9 3.8,25.1 3.4,26.7 3.1,28.4 3.2,30.0 3.4,31.7 4.0,33.3 4.5,34.4 5.2,35.5 6.1,36.5 7.0,37.3 8.1,38.1 8.9,38.5 10.1,38.9 11.3,39.2 12.5,39.3 13.7,39.2 14.9,38.9 16.1,38.5 17.2,37.9 18.2,37.2 19.1,36.3 19.9,35.3 20.7,34.0 22.5,34.7 24.3,35.3 26.7,35.6 28.7,35.7 30.7,35.5 33.0,35.1 35.1,34.3 36.8,33.5 37.6,34.2 38.5,34.9 39.5,35.5 40.5,36.0 41.6,36.4 42.7,36.7 44.5,36.9 46.4,36.8 47.9,36.5 49.7,35.9 51.0,35.1 51.9,34.4 52.8,33.7 53.6,32.8 54.3,31.9 54.9,30.9 55.5,29.5 55.9,28.4 56.2,27.3 56.4,26.1 56.4,24.9 56.4,23.7 56.2,22.6 55.9,21.4 55.5,20.3 55.1,19.3 54.5,18.3 53.8,17.3 53.0,16.4 52.2,15.6 51.3,14.9 50.3,14.3 49.3,13.8 48.2,13.4 47.2,13.2 45.3,12.9 43.7,13.0 42.6,12.9 41.6,13.0 40.5,13.4 39.7,13.8 38.8,14.5Z" fill="#2458a8"/><path d="M36.0,16.3 35.1,14.1 34.0,12.7 32.7,11.6 31.1,10.8 29.4,10.4 27.7,10.3 25.9,10.7 24.4,11.4 23.3,12.2 22.3,13.3 21.5,14.5 21.0,15.9 20.8,17.4 20.8,18.8 21.1,20.0 21.7,21.6 21.7,22.2 21.6,22.8 21.5,23.2 21.2,23.6 20.7,24.0 20.3,24.3 19.6,24.5 19.2,24.5 18.5,24.3 17.9,24.0 16.5,22.6 15.5,21.9 14.3,21.4 12.7,21.1 11.1,21.3 9.6,21.8 8.3,22.7 7.2,23.8 6.5,24.8 6.0,26.0 5.6,27.2 5.4,28.5 5.5,29.8 5.7,31.1 6.1,32.4 6.7,33.5 7.7,34.9 8.4,35.5 9.2,36.1 10.1,36.5 10.9,36.8 11.8,36.9 12.7,37.0 13.6,36.9 14.5,36.6 15.3,36.3 16.1,35.8 16.9,35.2 17.6,34.5 18.2,33.7 19.0,32.4 19.8,31.9 20.4,31.7 21.3,31.8 23.2,32.6 25.2,33.1 26.9,33.3 28.6,33.4 30.4,33.3 32.4,32.9 34.2,32.2 36.0,31.3 36.4,31.2 37.1,31.2 37.5,31.3 38.1,31.6 39.6,32.8 41.1,33.8 42.8,34.4 44.6,34.6 46.4,34.5 48.1,34.0 49.7,33.2 50.9,32.2 51.8,31.4 52.4,30.6 53.3,29.0 53.9,27.1 54.1,25.2 54.0,23.3 53.5,21.5 52.7,19.8 51.6,18.3 50.5,17.2 49.2,16.3 47.8,15.7 46.4,15.4 44.9,15.2 43.7,15.3 42.6,15.2 41.8,15.3 41.2,15.6 40.7,15.9 39.3,17.2 38.7,17.5 38.2,17.6 37.3,17.5 36.6,17.0Z" fill="#d9d9d9"/><path d="M43.6,24.3 43.5,23.3 43.3,22.5 43.1,21.8 42.7,20.8 42.2,20.1 41.6,19.3 40.8,18.5 40.0,17.9 39.1,17.3 38.4,17.0 37.6,16.8 36.6,16.6 35.5,16.5 34.4,16.6 33.4,16.8 32.6,17.0 31.7,17.5 30.8,18.0 29.9,18.7 29.0,19.7 28.5,20.6 28.0,21.5 27.6,22.5 27.4,23.7 26.2,23.3 24.8,23.1 23.5,23.1 22.4,23.3 21.4,23.6 20.1,24.2 19.2,24.9 18.2,25.8 17.5,26.7 16.8,27.9 16.4,28.9 16.1,30.0 16.0,31.1 16.0,32.5 16.3,33.9 16.6,35.0 17.1,36.0 17.7,36.9 18.2,37.6 19.0,38.4 19.9,39.0 20.6,39.4 21.6,39.9 22.7,40.1 23.7,40.3 24.8,40.3 25.9,40.1 27.0,39.9 28.0,39.4 28.9,38.9 29.8,38.2 30.7,37.2 31.4,38.2 32.0,38.8 33.6,40.0 35.4,40.9 37.4,41.5 39.5,41.8 41.7,41.8 43.8,41.5 45.8,40.9 47.1,40.3 48.4,39.4 49.6,38.4 50.4,37.5 51.1,36.2 51.5,35.2 51.7,33.8 51.6,32.7 51.4,31.7 51.0,30.6 50.4,29.6 49.6,28.7 48.4,27.7 47.1,26.8 45.5,26.1 43.6,25.5Z" fill="#2458a8"/><path d="M41.3,24.4 41.1,22.9 40.5,21.7 39.7,20.6 38.6,19.7 37.2,19.0 35.9,18.8 34.4,18.9 33.1,19.3 31.8,20.1 30.8,21.2 30.0,22.6 29.5,24.6 29.2,25.2 28.7,25.6 28.1,25.9 27.4,26.0 27.0,26.0 25.8,25.6 25.1,25.4 24.1,25.4 23.3,25.5 22.4,25.7 21.5,26.1 20.7,26.7 20.1,27.2 19.4,28.0 18.9,28.9 18.6,29.8 18.4,30.7 18.3,31.7 18.3,32.5 18.5,33.3 18.8,34.3 19.6,35.6 20.1,36.2 20.7,36.7 21.8,37.5 22.6,37.7 23.3,37.9 24.1,38.0 25.1,38.0 25.8,37.8 26.6,37.5 27.3,37.2 27.9,36.7 29.4,35.3 30.0,35.0 30.7,34.9 31.5,35.1 32.1,35.4 33.4,37.0 34.8,38.0 36.2,38.7 37.6,39.2 39.7,39.5 41.5,39.5 43.3,39.2 45.2,38.6 46.2,38.1 47.2,37.4 47.9,36.8 48.6,35.9 49.1,35.1 49.3,34.2 49.4,33.4 49.2,32.5 48.9,31.6 48.5,31.0 47.8,30.1 47.1,29.5 45.5,28.6 44.4,28.1 42.7,27.6 41.9,27.1 41.5,26.6 41.3,25.9Z" fill="#fcfcfc"/><path d="M45.03,26.34 C41.83,26.15 38.45,27.38 37.40,30.28" fill="none" stroke="#2458a8" stroke-width="2.3" stroke-linecap="round"/><line x1="24.9" y1="43.4" x2="22.5" y2="58.2" stroke="#3a6cb8" stroke-width="2.8"/><line x1="32.0" y1="44.6" x2="30.2" y2="55.7" stroke="#3a6cb8" stroke-width="2.8"/></g>
<g transform="translate(749.60 135)"><path d="M38.0,15.3 37.6,14.1 37.0,12.9 36.5,12.1 35.7,11.1 34.2,9.8 33.1,9.2 32.2,8.7 31.3,8.4 30.0,8.1 29.1,8.0 27.8,8.0 26.5,8.2 25.5,8.4 24.6,8.7 23.4,9.3 21.8,10.4 20.5,11.9 19.5,13.5 18.9,15.0 18.5,16.6 18.5,18.5 18.8,20.4 19.4,22.1 19.4,22.2 18.6,21.4 17.7,20.6 16.1,19.6 15.2,19.3 14.0,19.0 12.2,18.8 10.4,19.1 9.2,19.5 8.3,19.9 6.8,20.9 6.1,21.6 5.2,22.6 4.4,23.9 3.8,25.1 3.4,26.7 3.1,28.4 3.2,30.0 3.4,31.7 4.0,33.3 4.5,34.4 5.2,35.5 6.1,36.5 7.0,37.3 8.1,38.1 8.9,38.5 10.1,38.9 11.3,39.2 12.5,39.3 13.7,39.2 14.9,38.9 16.1,38.5 17.2,37.9 18.2,37.2 19.1,36.3 19.9,35.3 20.7,34.0 22.5,34.7 24.3,35.3 26.7,35.6 28.7,35.7 30.7,35.5 33.0,35.1 35.1,34.3 36.8,33.5 37.6,34.2 38.5,34.9 39.5,35.5 40.5,36.0 41.6,36.4 42.7,36.7 44.5,36.9 46.4,36.8 47.9,36.5 49.7,35.9 51.0,35.1 51.9,34.4 52.8,33.7 53.6,32.8 54.3,31.9 54.9,30.9 55.5,29.5 55.9,28.4 56.2,27.3 56.4,26.1 56.4,24.9 56.4,23.7 56.2,22.6 55.9,21.4 55.5,20.3 55.1,19.3 54.5,18.3 53.8,17.3 53.0,16.4 52.2,15.6 51.3,14.9 50.3,14.3 49.3,13.8 48.2,13.4 47.2,13.2 45.3,12.9 43.7,13.0 42.6,12.9 41.6,13.0 40.5,13.4 39.7,13.8 38.8,14.5Z" fill="#2458a8"/><path d="M36.0,16.3 35.1,14.1 34.0,12.7 32.7,11.6 31.1,10.8 29.4,10.4 27.7,10.3 25.9,10.7 24.4,11.4 23.3,12.2 22.3,13.3 21.5,14.5 21.0,15.9 20.8,17.4 20.8,18.8 21.1,20.0 21.7,21.6 21.7,22.2 21.6,22.8 21.5,23.2 21.2,23.6 20.7,24.0 20.3,24.3 19.6,24.5 19.2,24.5 18.5,24.3 17.9,24.0 16.5,22.6 15.5,21.9 14.3,21.4 12.7,21.1 11.1,21.3 9.6,21.8 8.3,22.7 7.2,23.8 6.5,24.8 6.0,26.0 5.6,27.2 5.4,28.5 5.5,29.8 5.7,31.1 6.1,32.4 6.7,33.5 7.7,34.9 8.4,35.5 9.2,36.1 10.1,36.5 10.9,36.8 11.8,36.9 12.7,37.0 13.6,36.9 14.5,36.6 15.3,36.3 16.1,35.8 16.9,35.2 17.6,34.5 18.2,33.7 19.0,32.4 19.8,31.9 20.4,31.7 21.3,31.8 23.2,32.6 25.2,33.1 26.9,33.3 28.6,33.4 30.4,33.3 32.4,32.9 34.2,32.2 36.0,31.3 36.4,31.2 37.1,31.2 37.5,31.3 38.1,31.6 39.6,32.8 41.1,33.8 42.8,34.4 44.6,34.6 46.4,34.5 48.1,34.0 49.7,33.2 50.9,32.2 51.8,31.4 52.4,30.6 53.3,29.0 53.9,27.1 54.1,25.2 54.0,23.3 53.5,21.5 52.7,19.8 51.6,18.3 50.5,17.2 49.2,16.3 47.8,15.7 46.4,15.4 44.9,15.2 43.7,15.3 42.6,15.2 41.8,15.3 41.2,15.6 40.7,15.9 39.3,17.2 38.7,17.5 38.2,17.6 37.3,17.5 36.6,17.0Z" fill="#d9d9d9"/><path d="M43.6,24.3 43.5,23.3 43.3,22.5 43.1,21.8 42.7,20.8 42.2,20.1 41.6,19.3 40.8,18.5 40.0,17.9 39.1,17.3 38.4,17.0 37.6,16.8 36.6,16.6 35.5,16.5 34.4,16.6 33.4,16.8 32.6,17.0 31.7,17.5 30.8,18.0 29.9,18.7 29.0,19.7 28.5,20.6 28.0,21.5 27.6,22.5 27.4,23.7 26.2,23.3 24.8,23.1 23.5,23.1 22.4,23.3 21.4,23.6 20.1,24.2 19.2,24.9 18.2,25.8 17.5,26.7 16.8,27.9 16.4,28.9 16.1,30.0 16.0,31.1 16.0,32.5 16.3,33.9 16.6,35.0 17.1,36.0 17.7,36.9 18.2,37.6 19.0,38.4 19.9,39.0 20.6,39.4 21.6,39.9 22.7,40.1 23.7,40.3 24.8,40.3 25.9,40.1 27.0,39.9 28.0,39.4 28.9,38.9 29.8,38.2 30.7,37.2 31.4,38.2 32.0,38.8 33.6,40.0 35.4,40.9 37.4,41.5 39.5,41.8 41.7,41.8 43.8,41.5 45.8,40.9 47.1,40.3 48.4,39.4 49.6,38.4 50.4,37.5 51.1,36.2 51.5,35.2 51.7,33.8 51.6,32.7 51.4,31.7 51.0,30.6 50.4,29.6 49.6,28.7 48.4,27.7 47.1,26.8 45.5,26.1 43.6,25.5Z" fill="#2458a8"/><path d="M41.3,24.4 41.1,22.9 40.5,21.7 39.7,20.6 38.6,19.7 37.2,19.0 35.9,18.8 34.4,18.9 33.1,19.3 31.8,20.1 30.8,21.2 30.0,22.6 29.5,24.6 29.2,25.2 28.7,25.6 28.1,25.9 27.4,26.0 27.0,26.0 25.8,25.6 25.1,25.4 24.1,25.4 23.3,25.5 22.4,25.7 21.5,26.1 20.7,26.7 20.1,27.2 19.4,28.0 18.9,28.9 18.6,29.8 18.4,30.7 18.3,31.7 18.3,32.5 18.5,33.3 18.8,34.3 19.6,35.6 20.1,36.2 20.7,36.7 21.8,37.5 22.6,37.7 23.3,37.9 24.1,38.0 25.1,38.0 25.8,37.8 26.6,37.5 27.3,37.2 27.9,36.7 29.4,35.3 30.0,35.0 30.7,34.9 31.5,35.1 32.1,35.4 33.4,37.0 34.8,38.0 36.2,38.7 37.6,39.2 39.7,39.5 41.5,39.5 43.3,39.2 45.2,38.6 46.2,38.1 47.2,37.4 47.9,36.8 48.6,35.9 49.1,35.1 49.3,34.2 49.4,33.4 49.2,32.5 48.9,31.6 48.5,31.0 47.8,30.1 47.1,29.5 45.5,28.6 44.4,28.1 42.7,27.6 41.9,27.1 41.5,26.6 41.3,25.9Z" fill="#fcfcfc"/><path d="M45.03,26.34 C41.83,26.15 38.45,27.38 37.40,30.28" fill="none" stroke="#2458a8" stroke-width="2.3" stroke-linecap="round"/><line x1="20.6" y1="43.4" x2="18.8" y2="54.5" stroke="#3a6cb8" stroke-width="3.0"/><line x1="27.4" y1="42.5" x2="25.2" y2="57.5" stroke="#3a6cb8" stroke-width="3.0"/><line x1="34.5" y1="43.4" x2="32.6" y2="54.5" stroke="#3a6cb8" stroke-width="3.0"/><line x1="41.2" y1="43.4" x2="39.7" y2="53.8" stroke="#3a6cb8" stroke-width="3.0"/></g>
<g transform="translate(828.60 135)"><path d="M38.0,15.3 37.6,14.1 37.0,12.9 36.5,12.1 35.7,11.1 34.2,9.8 33.1,9.2 32.2,8.7 31.3,8.4 30.0,8.1 29.1,8.0 27.8,8.0 26.5,8.2 25.5,8.4 24.6,8.7 23.4,9.3 21.8,10.4 20.5,11.9 19.5,13.5 18.9,15.0 18.5,16.6 18.5,18.5 18.8,20.4 19.4,22.1 19.4,22.2 18.6,21.4 17.7,20.6 16.1,19.6 15.2,19.3 14.0,19.0 12.2,18.8 10.4,19.1 9.2,19.5 8.3,19.9 6.8,20.9 6.1,21.6 5.2,22.6 4.4,23.9 3.8,25.1 3.4,26.7 3.1,28.4 3.2,30.0 3.4,31.7 4.0,33.3 4.5,34.4 5.2,35.5 6.1,36.5 7.0,37.3 8.1,38.1 8.9,38.5 10.1,38.9 11.3,39.2 12.5,39.3 13.7,39.2 14.9,38.9 16.1,38.5 17.2,37.9 18.2,37.2 19.1,36.3 19.9,35.3 20.7,34.0 22.5,34.7 24.3,35.3 26.7,35.6 28.7,35.7 30.7,35.5 33.0,35.1 35.1,34.3 36.8,33.5 37.6,34.2 38.5,34.9 39.5,35.5 40.5,36.0 41.6,36.4 42.7,36.7 44.5,36.9 46.4,36.8 47.9,36.5 49.7,35.9 51.0,35.1 51.9,34.4 52.8,33.7 53.6,32.8 54.3,31.9 54.9,30.9 55.5,29.5 55.9,28.4 56.2,27.3 56.4,26.1 56.4,24.9 56.4,23.7 56.2,22.6 55.9,21.4 55.5,20.3 55.1,19.3 54.5,18.3 53.8,17.3 53.0,16.4 52.2,15.6 51.3,14.9 50.3,14.3 49.3,13.8 48.2,13.4 47.2,13.2 45.3,12.9 43.7,13.0 42.6,12.9 41.6,13.0 40.5,13.4 39.7,13.8 38.8,14.5Z" fill="#2458a8"/><path d="M36.0,16.3 35.1,14.1 34.0,12.7 32.7,11.6 31.1,10.8 29.4,10.4 27.7,10.3 25.9,10.7 24.4,11.4 23.3,12.2 22.3,13.3 21.5,14.5 21.0,15.9 20.8,17.4 20.8,18.8 21.1,20.0 21.7,21.6 21.7,22.2 21.6,22.8 21.5,23.2 21.2,23.6 20.7,24.0 20.3,24.3 19.6,24.5 19.2,24.5 18.5,24.3 17.9,24.0 16.5,22.6 15.5,21.9 14.3,21.4 12.7,21.1 11.1,21.3 9.6,21.8 8.3,22.7 7.2,23.8 6.5,24.8 6.0,26.0 5.6,27.2 5.4,28.5 5.5,29.8 5.7,31.1 6.1,32.4 6.7,33.5 7.7,34.9 8.4,35.5 9.2,36.1 10.1,36.5 10.9,36.8 11.8,36.9 12.7,37.0 13.6,36.9 14.5,36.6 15.3,36.3 16.1,35.8 16.9,35.2 17.6,34.5 18.2,33.7 19.0,32.4 19.8,31.9 20.4,31.7 21.3,31.8 23.2,32.6 25.2,33.1 26.9,33.3 28.6,33.4 30.4,33.3 32.4,32.9 34.2,32.2 36.0,31.3 36.4,31.2 37.1,31.2 37.5,31.3 38.1,31.6 39.6,32.8 41.1,33.8 42.8,34.4 44.6,34.6 46.4,34.5 48.1,34.0 49.7,33.2 50.9,32.2 51.8,31.4 52.4,30.6 53.3,29.0 53.9,27.1 54.1,25.2 54.0,23.3 53.5,21.5 52.7,19.8 51.6,18.3 50.5,17.2 49.2,16.3 47.8,15.7 46.4,15.4 44.9,15.2 43.7,15.3 42.6,15.2 41.8,15.3 41.2,15.6 40.7,15.9 39.3,17.2 38.7,17.5 38.2,17.6 37.3,17.5 36.6,17.0Z" fill="#d9d9d9"/><path d="M43.6,24.3 43.5,23.3 43.3,22.5 43.1,21.8 42.7,20.8 42.2,20.1 41.6,19.3 40.8,18.5 40.0,17.9 39.1,17.3 38.4,17.0 37.6,16.8 36.6,16.6 35.5,16.5 34.4,16.6 33.4,16.8 32.6,17.0 31.7,17.5 30.8,18.0 29.9,18.7 29.0,19.7 28.5,20.6 28.0,21.5 27.6,22.5 27.4,23.7 26.2,23.3 24.8,23.1 23.5,23.1 22.4,23.3 21.4,23.6 20.1,24.2 19.2,24.9 18.2,25.8 17.5,26.7 16.8,27.9 16.4,28.9 16.1,30.0 16.0,31.1 16.0,32.5 16.3,33.9 16.6,35.0 17.1,36.0 17.7,36.9 18.2,37.6 19.0,38.4 19.9,39.0 20.6,39.4 21.6,39.9 22.7,40.1 23.7,40.3 24.8,40.3 25.9,40.1 27.0,39.9 28.0,39.4 28.9,38.9 29.8,38.2 30.7,37.2 31.4,38.2 32.0,38.8 33.6,40.0 35.4,40.9 37.4,41.5 39.5,41.8 41.7,41.8 43.8,41.5 45.8,40.9 47.1,40.3 48.4,39.4 49.6,38.4 50.4,37.5 51.1,36.2 51.5,35.2 51.7,33.8 51.6,32.7 51.4,31.7 51.0,30.6 50.4,29.6 49.6,28.7 48.4,27.7 47.1,26.8 45.5,26.1 43.6,25.5Z" fill="#2458a8"/><path d="M41.3,24.4 41.1,22.9 40.5,21.7 39.7,20.6 38.6,19.7 37.2,19.0 35.9,18.8 34.4,18.9 33.1,19.3 31.8,20.1 30.8,21.2 30.0,22.6 29.5,24.6 29.2,25.2 28.7,25.6 28.1,25.9 27.4,26.0 27.0,26.0 25.8,25.6 25.1,25.4 24.1,25.4 23.3,25.5 22.4,25.7 21.5,26.1 20.7,26.7 20.1,27.2 19.4,28.0 18.9,28.9 18.6,29.8 18.4,30.7 18.3,31.7 18.3,32.5 18.5,33.3 18.8,34.3 19.6,35.6 20.1,36.2 20.7,36.7 21.8,37.5 22.6,37.7 23.3,37.9 24.1,38.0 25.1,38.0 25.8,37.8 26.6,37.5 27.3,37.2 27.9,36.7 29.4,35.3 30.0,35.0 30.7,34.9 31.5,35.1 32.1,35.4 33.4,37.0 34.8,38.0 36.2,38.7 37.6,39.2 39.7,39.5 41.5,39.5 43.3,39.2 45.2,38.6 46.2,38.1 47.2,37.4 47.9,36.8 48.6,35.9 49.1,35.1 49.3,34.2 49.4,33.4 49.2,32.5 48.9,31.6 48.5,31.0 47.8,30.1 47.1,29.5 45.5,28.6 44.4,28.1 42.7,27.6 41.9,27.1 41.5,26.6 41.3,25.9Z" fill="#fcfcfc"/><path d="M45.03,26.34 C41.83,26.15 38.45,27.38 37.40,30.28" fill="none" stroke="#2458a8" stroke-width="2.3" stroke-linecap="round"/><line x1="20.6" y1="43.4" x2="18.8" y2="54.5" stroke="#3a6cb8" stroke-width="3.0"/><line x1="27.4" y1="42.5" x2="25.2" y2="57.5" stroke="#3a6cb8" stroke-width="3.0"/><line x1="34.5" y1="43.4" x2="32.6" y2="54.5" stroke="#3a6cb8" stroke-width="3.0"/><line x1="41.2" y1="43.4" x2="39.7" y2="53.8" stroke="#3a6cb8" stroke-width="3.0"/></g>
<g transform="translate(907.60 135)"><path d="M38.0,15.3 37.6,14.1 37.0,12.9 36.5,12.1 35.7,11.1 34.2,9.8 33.1,9.2 32.2,8.7 31.3,8.4 30.0,8.1 29.1,8.0 27.8,8.0 26.5,8.2 25.5,8.4 24.6,8.7 23.4,9.3 21.8,10.4 20.5,11.9 19.5,13.5 18.9,15.0 18.5,16.6 18.5,18.5 18.8,20.4 19.4,22.1 19.4,22.2 18.6,21.4 17.7,20.6 16.1,19.6 15.2,19.3 14.0,19.0 12.2,18.8 10.4,19.1 9.2,19.5 8.3,19.9 6.8,20.9 6.1,21.6 5.2,22.6 4.4,23.9 3.8,25.1 3.4,26.7 3.1,28.4 3.2,30.0 3.4,31.7 4.0,33.3 4.5,34.4 5.2,35.5 6.1,36.5 7.0,37.3 8.1,38.1 8.9,38.5 10.1,38.9 11.3,39.2 12.5,39.3 13.7,39.2 14.9,38.9 16.1,38.5 17.2,37.9 18.2,37.2 19.1,36.3 19.9,35.3 20.7,34.0 22.5,34.7 24.3,35.3 26.7,35.6 28.7,35.7 30.7,35.5 33.0,35.1 35.1,34.3 36.8,33.5 37.6,34.2 38.5,34.9 39.5,35.5 40.5,36.0 41.6,36.4 42.7,36.7 44.5,36.9 46.4,36.8 47.9,36.5 49.7,35.9 51.0,35.1 51.9,34.4 52.8,33.7 53.6,32.8 54.3,31.9 54.9,30.9 55.5,29.5 55.9,28.4 56.2,27.3 56.4,26.1 56.4,24.9 56.4,23.7 56.2,22.6 55.9,21.4 55.5,20.3 55.1,19.3 54.5,18.3 53.8,17.3 53.0,16.4 52.2,15.6 51.3,14.9 50.3,14.3 49.3,13.8 48.2,13.4 47.2,13.2 45.3,12.9 43.7,13.0 42.6,12.9 41.6,13.0 40.5,13.4 39.7,13.8 38.8,14.5Z" fill="#2458a8"/><path d="M36.0,16.3 35.1,14.1 34.0,12.7 32.7,11.6 31.1,10.8 29.4,10.4 27.7,10.3 25.9,10.7 24.4,11.4 23.3,12.2 22.3,13.3 21.5,14.5 21.0,15.9 20.8,17.4 20.8,18.8 21.1,20.0 21.7,21.6 21.7,22.2 21.6,22.8 21.5,23.2 21.2,23.6 20.7,24.0 20.3,24.3 19.6,24.5 19.2,24.5 18.5,24.3 17.9,24.0 16.5,22.6 15.5,21.9 14.3,21.4 12.7,21.1 11.1,21.3 9.6,21.8 8.3,22.7 7.2,23.8 6.5,24.8 6.0,26.0 5.6,27.2 5.4,28.5 5.5,29.8 5.7,31.1 6.1,32.4 6.7,33.5 7.7,34.9 8.4,35.5 9.2,36.1 10.1,36.5 10.9,36.8 11.8,36.9 12.7,37.0 13.6,36.9 14.5,36.6 15.3,36.3 16.1,35.8 16.9,35.2 17.6,34.5 18.2,33.7 19.0,32.4 19.8,31.9 20.4,31.7 21.3,31.8 23.2,32.6 25.2,33.1 26.9,33.3 28.6,33.4 30.4,33.3 32.4,32.9 34.2,32.2 36.0,31.3 36.4,31.2 37.1,31.2 37.5,31.3 38.1,31.6 39.6,32.8 41.1,33.8 42.8,34.4 44.6,34.6 46.4,34.5 48.1,34.0 49.7,33.2 50.9,32.2 51.8,31.4 52.4,30.6 53.3,29.0 53.9,27.1 54.1,25.2 54.0,23.3 53.5,21.5 52.7,19.8 51.6,18.3 50.5,17.2 49.2,16.3 47.8,15.7 46.4,15.4 44.9,15.2 43.7,15.3 42.6,15.2 41.8,15.3 41.2,15.6 40.7,15.9 39.3,17.2 38.7,17.5 38.2,17.6 37.3,17.5 36.6,17.0Z" fill="#d9d9d9"/><path d="M43.6,24.3 43.5,23.3 43.3,22.5 43.1,21.8 42.7,20.8 42.2,20.1 41.6,19.3 40.8,18.5 40.0,17.9 39.1,17.3 38.4,17.0 37.6,16.8 36.6,16.6 35.5,16.5 34.4,16.6 33.4,16.8 32.6,17.0 31.7,17.5 30.8,18.0 29.9,18.7 29.0,19.7 28.5,20.6 28.0,21.5 27.6,22.5 27.4,23.7 26.2,23.3 24.8,23.1 23.5,23.1 22.4,23.3 21.4,23.6 20.1,24.2 19.2,24.9 18.2,25.8 17.5,26.7 16.8,27.9 16.4,28.9 16.1,30.0 16.0,31.1 16.0,32.5 16.3,33.9 16.6,35.0 17.1,36.0 17.7,36.9 18.2,37.6 19.0,38.4 19.9,39.0 20.6,39.4 21.6,39.9 22.7,40.1 23.7,40.3 24.8,40.3 25.9,40.1 27.0,39.9 28.0,39.4 28.9,38.9 29.8,38.2 30.7,37.2 31.4,38.2 32.0,38.8 33.6,40.0 35.4,40.9 37.4,41.5 39.5,41.8 41.7,41.8 43.8,41.5 45.8,40.9 47.1,40.3 48.4,39.4 49.6,38.4 50.4,37.5 51.1,36.2 51.5,35.2 51.7,33.8 51.6,32.7 51.4,31.7 51.0,30.6 50.4,29.6 49.6,28.7 48.4,27.7 47.1,26.8 45.5,26.1 43.6,25.5Z" fill="#2458a8"/><path d="M41.3,24.4 41.1,22.9 40.5,21.7 39.7,20.6 38.6,19.7 37.2,19.0 35.9,18.8 34.4,18.9 33.1,19.3 31.8,20.1 30.8,21.2 30.0,22.6 29.5,24.6 29.2,25.2 28.7,25.6 28.1,25.9 27.4,26.0 27.0,26.0 25.8,25.6 25.1,25.4 24.1,25.4 23.3,25.5 22.4,25.7 21.5,26.1 20.7,26.7 20.1,27.2 19.4,28.0 18.9,28.9 18.6,29.8 18.4,30.7 18.3,31.7 18.3,32.5 18.5,33.3 18.8,34.3 19.6,35.6 20.1,36.2 20.7,36.7 21.8,37.5 22.6,37.7 23.3,37.9 24.1,38.0 25.1,38.0 25.8,37.8 26.6,37.5 27.3,37.2 27.9,36.7 29.4,35.3 30.0,35.0 30.7,34.9 31.5,35.1 32.1,35.4 33.4,37.0 34.8,38.0 36.2,38.7 37.6,39.2 39.7,39.5 41.5,39.5 43.3,39.2 45.2,38.6 46.2,38.1 47.2,37.4 47.9,36.8 48.6,35.9 49.1,35.1 49.3,34.2 49.4,33.4 49.2,32.5 48.9,31.6 48.5,31.0 47.8,30.1 47.1,29.5 45.5,28.6 44.4,28.1 42.7,27.6 41.9,27.1 41.5,26.6 41.3,25.9Z" fill="#fcfcfc"/><path d="M45.03,26.34 C41.83,26.15 38.45,27.38 37.40,30.28" fill="none" stroke="#2458a8" stroke-width="2.3" stroke-linecap="round"/><line x1="20.6" y1="43.4" x2="18.8" y2="54.5" stroke="#3a6cb8" stroke-width="3.0"/><line x1="27.4" y1="42.5" x2="25.2" y2="57.5" stroke="#3a6cb8" stroke-width="3.0"/><line x1="34.5" y1="43.4" x2="32.6" y2="54.5" stroke="#3a6cb8" stroke-width="3.0"/><line x1="41.2" y1="43.4" x2="39.7" y2="53.8" stroke="#3a6cb8" stroke-width="3.0"/></g>
<g transform="translate(986.59 135)"><path d="M38.0,15.3 37.6,14.1 37.0,12.9 36.5,12.1 35.7,11.1 34.2,9.8 33.1,9.2 32.2,8.7 31.3,8.4 30.0,8.1 29.1,8.0 27.8,8.0 26.5,8.2 25.5,8.4 24.6,8.7 23.4,9.3 21.8,10.4 20.5,11.9 19.5,13.5 18.9,15.0 18.5,16.6 18.5,18.5 18.8,20.4 19.4,22.1 19.4,22.2 18.6,21.4 17.7,20.6 16.1,19.6 15.2,19.3 14.0,19.0 12.2,18.8 10.4,19.1 9.2,19.5 8.3,19.9 6.8,20.9 6.1,21.6 5.2,22.6 4.4,23.9 3.8,25.1 3.4,26.7 3.1,28.4 3.2,30.0 3.4,31.7 4.0,33.3 4.5,34.4 5.2,35.5 6.1,36.5 7.0,37.3 8.1,38.1 8.9,38.5 10.1,38.9 11.3,39.2 12.5,39.3 13.7,39.2 14.9,38.9 16.1,38.5 17.2,37.9 18.2,37.2 19.1,36.3 19.9,35.3 20.7,34.0 22.5,34.7 24.3,35.3 26.7,35.6 28.7,35.7 30.7,35.5 33.0,35.1 35.1,34.3 36.8,33.5 37.6,34.2 38.5,34.9 39.5,35.5 40.5,36.0 41.6,36.4 42.7,36.7 44.5,36.9 46.4,36.8 47.9,36.5 49.7,35.9 51.0,35.1 51.9,34.4 52.8,33.7 53.6,32.8 54.3,31.9 54.9,30.9 55.5,29.5 55.9,28.4 56.2,27.3 56.4,26.1 56.4,24.9 56.4,23.7 56.2,22.6 55.9,21.4 55.5,20.3 55.1,19.3 54.5,18.3 53.8,17.3 53.0,16.4 52.2,15.6 51.3,14.9 50.3,14.3 49.3,13.8 48.2,13.4 47.2,13.2 45.3,12.9 43.7,13.0 42.6,12.9 41.6,13.0 40.5,13.4 39.7,13.8 38.8,14.5Z" fill="#2458a8"/><path d="M36.0,16.3 35.1,14.1 34.0,12.7 32.7,11.6 31.1,10.8 29.4,10.4 27.7,10.3 25.9,10.7 24.4,11.4 23.3,12.2 22.3,13.3 21.5,14.5 21.0,15.9 20.8,17.4 20.8,18.8 21.1,20.0 21.7,21.6 21.7,22.2 21.6,22.8 21.5,23.2 21.2,23.6 20.7,24.0 20.3,24.3 19.6,24.5 19.2,24.5 18.5,24.3 17.9,24.0 16.5,22.6 15.5,21.9 14.3,21.4 12.7,21.1 11.1,21.3 9.6,21.8 8.3,22.7 7.2,23.8 6.5,24.8 6.0,26.0 5.6,27.2 5.4,28.5 5.5,29.8 5.7,31.1 6.1,32.4 6.7,33.5 7.7,34.9 8.4,35.5 9.2,36.1 10.1,36.5 10.9,36.8 11.8,36.9 12.7,37.0 13.6,36.9 14.5,36.6 15.3,36.3 16.1,35.8 16.9,35.2 17.6,34.5 18.2,33.7 19.0,32.4 19.8,31.9 20.4,31.7 21.3,31.8 23.2,32.6 25.2,33.1 26.9,33.3 28.6,33.4 30.4,33.3 32.4,32.9 34.2,32.2 36.0,31.3 36.4,31.2 37.1,31.2 37.5,31.3 38.1,31.6 39.6,32.8 41.1,33.8 42.8,34.4 44.6,34.6 46.4,34.5 48.1,34.0 49.7,33.2 50.9,32.2 51.8,31.4 52.4,30.6 53.3,29.0 53.9,27.1 54.1,25.2 54.0,23.3 53.5,21.5 52.7,19.8 51.6,18.3 50.5,17.2 49.2,16.3 47.8,15.7 46.4,15.4 44.9,15.2 43.7,15.3 42.6,15.2 41.8,15.3 41.2,15.6 40.7,15.9 39.3,17.2 38.7,17.5 38.2,17.6 37.3,17.5 36.6,17.0Z" fill="#d9d9d9"/><path d="M43.6,24.3 43.5,23.3 43.3,22.5 43.1,21.8 42.7,20.8 42.2,20.1 41.6,19.3 40.8,18.5 40.0,17.9 39.1,17.3 38.4,17.0 37.6,16.8 36.6,16.6 35.5,16.5 34.4,16.6 33.4,16.8 32.6,17.0 31.7,17.5 30.8,18.0 29.9,18.7 29.0,19.7 28.5,20.6 28.0,21.5 27.6,22.5 27.4,23.7 26.2,23.3 24.8,23.1 23.5,23.1 22.4,23.3 21.4,23.6 20.1,24.2 19.2,24.9 18.2,25.8 17.5,26.7 16.8,27.9 16.4,28.9 16.1,30.0 16.0,31.1 16.0,32.5 16.3,33.9 16.6,35.0 17.1,36.0 17.7,36.9 18.2,37.6 19.0,38.4 19.9,39.0 20.6,39.4 21.6,39.9 22.7,40.1 23.7,40.3 24.8,40.3 25.9,40.1 27.0,39.9 28.0,39.4 28.9,38.9 29.8,38.2 30.7,37.2 31.4,38.2 32.0,38.8 33.6,40.0 35.4,40.9 37.4,41.5 39.5,41.8 41.7,41.8 43.8,41.5 45.8,40.9 47.1,40.3 48.4,39.4 49.6,38.4 50.4,37.5 51.1,36.2 51.5,35.2 51.7,33.8 51.6,32.7 51.4,31.7 51.0,30.6 50.4,29.6 49.6,28.7 48.4,27.7 47.1,26.8 45.5,26.1 43.6,25.5Z" fill="#2458a8"/><path d="M41.3,24.4 41.1,22.9 40.5,21.7 39.7,20.6 38.6,19.7 37.2,19.0 35.9,18.8 34.4,18.9 33.1,19.3 31.8,20.1 30.8,21.2 30.0,22.6 29.5,24.6 29.2,25.2 28.7,25.6 28.1,25.9 27.4,26.0 27.0,26.0 25.8,25.6 25.1,25.4 24.1,25.4 23.3,25.5 22.4,25.7 21.5,26.1 20.7,26.7 20.1,27.2 19.4,28.0 18.9,28.9 18.6,29.8 18.4,30.7 18.3,31.7 18.3,32.5 18.5,33.3 18.8,34.3 19.6,35.6 20.1,36.2 20.7,36.7 21.8,37.5 22.6,37.7 23.3,37.9 24.1,38.0 25.1,38.0 25.8,37.8 26.6,37.5 27.3,37.2 27.9,36.7 29.4,35.3 30.0,35.0 30.7,34.9 31.5,35.1 32.1,35.4 33.4,37.0 34.8,38.0 36.2,38.7 37.6,39.2 39.7,39.5 41.5,39.5 43.3,39.2 45.2,38.6 46.2,38.1 47.2,37.4 47.9,36.8 48.6,35.9 49.1,35.1 49.3,34.2 49.4,33.4 49.2,32.5 48.9,31.6 48.5,31.0 47.8,30.1 47.1,29.5 45.5,28.6 44.4,28.1 42.7,27.6 41.9,27.1 41.5,26.6 41.3,25.9Z" fill="#fcfcfc"/><path d="M45.03,26.34 C41.83,26.15 38.45,27.38 37.40,30.28" fill="none" stroke="#2458a8" stroke-width="2.3" stroke-linecap="round"/><line x1="20.6" y1="43.4" x2="18.8" y2="54.5" stroke="#3a6cb8" stroke-width="3.0"/><line x1="27.4" y1="42.5" x2="25.2" y2="57.5" stroke="#3a6cb8" stroke-width="3.0"/><line x1="34.5" y1="43.4" x2="32.6" y2="54.5" stroke="#3a6cb8" stroke-width="3.0"/><line x1="41.2" y1="43.4" x2="39.7" y2="53.8" stroke="#3a6cb8" stroke-width="3.0"/></g>
<g transform="translate(1065.59 135)"><path d="M38.0,15.3 37.6,14.1 37.0,12.9 36.5,12.1 35.7,11.1 34.2,9.8 33.1,9.2 32.2,8.7 31.3,8.4 30.0,8.1 29.1,8.0 27.8,8.0 26.5,8.2 25.5,8.4 24.6,8.7 23.4,9.3 21.8,10.4 20.5,11.9 19.5,13.5 18.9,15.0 18.5,16.6 18.5,18.5 18.8,20.4 19.4,22.1 19.4,22.2 18.6,21.4 17.7,20.6 16.1,19.6 15.2,19.3 14.0,19.0 12.2,18.8 10.4,19.1 9.2,19.5 8.3,19.9 6.8,20.9 6.1,21.6 5.2,22.6 4.4,23.9 3.8,25.1 3.4,26.7 3.1,28.4 3.2,30.0 3.4,31.7 4.0,33.3 4.5,34.4 5.2,35.5 6.1,36.5 7.0,37.3 8.1,38.1 8.9,38.5 10.1,38.9 11.3,39.2 12.5,39.3 13.7,39.2 14.9,38.9 16.1,38.5 17.2,37.9 18.2,37.2 19.1,36.3 19.9,35.3 20.7,34.0 22.5,34.7 24.3,35.3 26.7,35.6 28.7,35.7 30.7,35.5 33.0,35.1 35.1,34.3 36.8,33.5 37.6,34.2 38.5,34.9 39.5,35.5 40.5,36.0 41.6,36.4 42.7,36.7 44.5,36.9 46.4,36.8 47.9,36.5 49.7,35.9 51.0,35.1 51.9,34.4 52.8,33.7 53.6,32.8 54.3,31.9 54.9,30.9 55.5,29.5 55.9,28.4 56.2,27.3 56.4,26.1 56.4,24.9 56.4,23.7 56.2,22.6 55.9,21.4 55.5,20.3 55.1,19.3 54.5,18.3 53.8,17.3 53.0,16.4 52.2,15.6 51.3,14.9 50.3,14.3 49.3,13.8 48.2,13.4 47.2,13.2 45.3,12.9 43.7,13.0 42.6,12.9 41.6,13.0 40.5,13.4 39.7,13.8 38.8,14.5Z" fill="#2458a8"/><path d="M36.0,16.3 35.1,14.1 34.0,12.7 32.7,11.6 31.1,10.8 29.4,10.4 27.7,10.3 25.9,10.7 24.4,11.4 23.3,12.2 22.3,13.3 21.5,14.5 21.0,15.9 20.8,17.4 20.8,18.8 21.1,20.0 21.7,21.6 21.7,22.2 21.6,22.8 21.5,23.2 21.2,23.6 20.7,24.0 20.3,24.3 19.6,24.5 19.2,24.5 18.5,24.3 17.9,24.0 16.5,22.6 15.5,21.9 14.3,21.4 12.7,21.1 11.1,21.3 9.6,21.8 8.3,22.7 7.2,23.8 6.5,24.8 6.0,26.0 5.6,27.2 5.4,28.5 5.5,29.8 5.7,31.1 6.1,32.4 6.7,33.5 7.7,34.9 8.4,35.5 9.2,36.1 10.1,36.5 10.9,36.8 11.8,36.9 12.7,37.0 13.6,36.9 14.5,36.6 15.3,36.3 16.1,35.8 16.9,35.2 17.6,34.5 18.2,33.7 19.0,32.4 19.8,31.9 20.4,31.7 21.3,31.8 23.2,32.6 25.2,33.1 26.9,33.3 28.6,33.4 30.4,33.3 32.4,32.9 34.2,32.2 36.0,31.3 36.4,31.2 37.1,31.2 37.5,31.3 38.1,31.6 39.6,32.8 41.1,33.8 42.8,34.4 44.6,34.6 46.4,34.5 48.1,34.0 49.7,33.2 50.9,32.2 51.8,31.4 52.4,30.6 53.3,29.0 53.9,27.1 54.1,25.2 54.0,23.3 53.5,21.5 52.7,19.8 51.6,18.3 50.5,17.2 49.2,16.3 47.8,15.7 46.4,15.4 44.9,15.2 43.7,15.3 42.6,15.2 41.8,15.3 41.2,15.6 40.7,15.9 39.3,17.2 38.7,17.5 38.2,17.6 37.3,17.5 36.6,17.0Z" fill="#d9d9d9"/><path d="M43.6,24.3 43.5,23.3 43.3,22.5 43.1,21.8 42.7,20.8 42.2,20.1 41.6,19.3 40.8,18.5 40.0,17.9 39.1,17.3 38.4,17.0 37.6,16.8 36.6,16.6 35.5,16.5 34.4,16.6 33.4,16.8 32.6,17.0 31.7,17.5 30.8,18.0 29.9,18.7 29.0,19.7 28.5,20.6 28.0,21.5 27.6,22.5 27.4,23.7 26.2,23.3 24.8,23.1 23.5,23.1 22.4,23.3 21.4,23.6 20.1,24.2 19.2,24.9 18.2,25.8 17.5,26.7 16.8,27.9 16.4,28.9 16.1,30.0 16.0,31.1 16.0,32.5 16.3,33.9 16.6,35.0 17.1,36.0 17.7,36.9 18.2,37.6 19.0,38.4 19.9,39.0 20.6,39.4 21.6,39.9 22.7,40.1 23.7,40.3 24.8,40.3 25.9,40.1 27.0,39.9 28.0,39.4 28.9,38.9 29.8,38.2 30.7,37.2 31.4,38.2 32.0,38.8 33.6,40.0 35.4,40.9 37.4,41.5 39.5,41.8 41.7,41.8 43.8,41.5 45.8,40.9 47.1,40.3 48.4,39.4 49.6,38.4 50.4,37.5 51.1,36.2 51.5,35.2 51.7,33.8 51.6,32.7 51.4,31.7 51.0,30.6 50.4,29.6 49.6,28.7 48.4,27.7 47.1,26.8 45.5,26.1 43.6,25.5Z" fill="#2458a8"/><path d="M41.3,24.4 41.1,22.9 40.5,21.7 39.7,20.6 38.6,19.7 37.2,19.0 35.9,18.8 34.4,18.9 33.1,19.3 31.8,20.1 30.8,21.2 30.0,22.6 29.5,24.6 29.2,25.2 28.7,25.6 28.1,25.9 27.4,26.0 27.0,26.0 25.8,25.6 25.1,25.4 24.1,25.4 23.3,25.5 22.4,25.7 21.5,26.1 20.7,26.7 20.1,27.2 19.4,28.0 18.9,28.9 18.6,29.8 18.4,30.7 18.3,31.7 18.3,32.5 18.5,33.3 18.8,34.3 19.6,35.6 20.1,36.2 20.7,36.7 21.8,37.5 22.6,37.7 23.3,37.9 24.1,38.0 25.1,38.0 25.8,37.8 26.6,37.5 27.3,37.2 27.9,36.7 29.4,35.3 30.0,35.0 30.7,34.9 31.5,35.1 32.1,35.4 33.4,37.0 34.8,38.0 36.2,38.7 37.6,39.2 39.7,39.5 41.5,39.5 43.3,39.2 45.2,38.6 46.2,38.1 47.2,37.4 47.9,36.8 48.6,35.9 49.1,35.1 49.3,34.2 49.4,33.4 49.2,32.5 48.9,31.6 48.5,31.0 47.8,30.1 47.1,29.5 45.5,28.6 44.4,28.1 42.7,27.6 41.9,27.1 41.5,26.6 41.3,25.9Z" fill="#fcfcfc"/><path d="M45.03,26.34 C41.83,26.15 38.45,27.38 37.40,30.28" fill="none" stroke="#2458a8" stroke-width="2.3" stroke-linecap="round"/><line x1="20.6" y1="43.4" x2="18.8" y2="54.5" stroke="#3a6cb8" stroke-width="3.0"/><line x1="27.4" y1="42.5" x2="25.2" y2="57.5" stroke="#3a6cb8" stroke-width="3.0"/><line x1="34.5" y1="43.4" x2="32.6" y2="54.5" stroke="#3a6cb8" stroke-width="3.0"/><line x1="41.2" y1="43.4" x2="39.7" y2="53.8" stroke="#3a6cb8" stroke-width="3.0"/></g>
<text class="ls" x="579.75" y="408" font-size="23.8" fill="#000" text-anchor="middle">Temperatura (°C)</text>
<text class="ls" x="578.3" y="667.5" font-size="23.72" fill="#000" text-anchor="middle">Količina padavin (mm) / Možnost padavin (%)</text>
<clipPath id="tclip"><rect x="69.5" y="417.5" width="1025.0" height="197.0"/></clipPath>
<g clip-path="url(#tclip)">
<polygon points="69.12,562.12 147.99,559.61 226.86,565.46 305.72,563.37 384.59,533.73 463.46,522.87 542.33,499.49 621.19,486.13 700.06,493.64 778.93,503.67 857.80,512.85 936.66,518.69 1015.53,519.11 1094.40,517.86 1094.40,608.88 1015.53,599.27 936.66,601.36 857.80,586.33 778.93,571.30 700.06,542.08 621.19,532.47 542.33,529.55 463.46,557.94 384.59,556.27 305.72,569.63 226.86,570.47 147.99,564.62 69.12,568.79" fill="#6495ed" fill-opacity="0.5"/>
<polygon points="69.12,496.15 147.99,496.99 226.86,490.31 305.72,476.94 384.59,461.92 463.46,461.08 542.33,447.72 621.19,461.50 700.06,463.59 778.93,475.27 857.80,480.28 936.66,481.54 1015.53,481.54 1094.40,481.12 1094.40,571.30 1015.53,562.45 936.66,564.62 857.80,552.93 778.93,542.49 700.06,514.52 621.19,507.00 542.33,477.78 463.46,495.65 384.59,484.04 305.72,482.79 226.86,494.48 147.99,502.83 69.12,503.67" fill="#32cd32" fill-opacity="0.4"/>
<line x1="69.5" x2="1094.5" y1="546" y2="546" stroke="#000" stroke-opacity="0.15" stroke-width="2"/>
<line x1="69.5" x2="1094.5" y1="504" y2="504" stroke="#000" stroke-opacity="0.15" stroke-width="2"/>
<line x1="69.5" x2="1094.5" y1="463" y2="463" stroke="#000" stroke-opacity="0.15" stroke-width="2"/>
<line x1="69.5" x2="1094.5" y1="421" y2="421" stroke="#000" stroke-opacity="0.15" stroke-width="2"/>
<line x1="227" x2="227" y1="417.5" y2="614.5" stroke="#000" stroke-opacity="0.15" stroke-width="2"/>
<line x1="385" x2="385" y1="417.5" y2="614.5" stroke="#000" stroke-opacity="0.15" stroke-width="2"/>
<line x1="542" x2="542" y1="417.5" y2="614.5" stroke="#000" stroke-opacity="0.15" stroke-width="2"/>
<line x1="700" x2="700" y1="417.5" y2="614.5" stroke="#000" stroke-opacity="0.15" stroke-width="2"/>
<line x1="858" x2="858" y1="417.5" y2="614.5" stroke="#000" stroke-opacity="0.15" stroke-width="2"/>
<line x1="1016" x2="1016" y1="417.5" y2="614.5" stroke="#000" stroke-opacity="0.15" stroke-width="2"/>
<line x1="69.5" x2="1094.5" y1="588.3" y2="588.3" stroke="#000" stroke-opacity="0.75" stroke-width="1.1"/>
<polyline points="69.12,565.46 147.99,562.12 226.86,567.96 305.72,566.29 384.59,545.00 463.46,540.40 542.33,513.68 621.19,509.51 700.06,517.86 778.93,538.15 857.80,548.17 936.66,559.61 1015.53,559.19 1094.40,562.95" fill="none" stroke="#1e90ff" stroke-width="5.4" stroke-linejoin="round"/>
<polyline points="69.12,499.91 147.99,499.49 226.86,492.39 305.72,479.45 384.59,472.35 463.46,477.78 542.33,463.17 621.19,485.13 700.06,488.63 778.93,509.93 857.80,517.86 936.66,522.37 1015.53,521.20 1094.40,526.21" fill="none" stroke="#ff0000" stroke-width="5.4" stroke-linejoin="round"/>
</g>
<text class="ls" x="748.7" y="483.6" font-size="19.44" fill="#0000ff">© vreme.us &amp; vreme.pro</text>
<line x1="69.5" x2="74.8" y1="613.5" y2="613.5" stroke="#262626" stroke-width="1"/>
<line x1="69.5" x2="74.8" y1="605.5" y2="605.5" stroke="#262626" stroke-width="1"/>
<line x1="69.5" x2="74.8" y1="596.5" y2="596.5" stroke="#262626" stroke-width="1"/>
<line x1="69.5" x2="74.8" y1="580.5" y2="580.5" stroke="#262626" stroke-width="1"/>
<line x1="69.5" x2="74.8" y1="571.5" y2="571.5" stroke="#262626" stroke-width="1"/>
<line x1="69.5" x2="74.8" y1="563.5" y2="563.5" stroke="#262626" stroke-width="1"/>
<line x1="69.5" x2="74.8" y1="554.5" y2="554.5" stroke="#262626" stroke-width="1"/>
<line x1="69.5" x2="74.8" y1="538.5" y2="538.5" stroke="#262626" stroke-width="1"/>
<line x1="69.5" x2="74.8" y1="529.5" y2="529.5" stroke="#262626" stroke-width="1"/>
<line x1="69.5" x2="74.8" y1="521.5" y2="521.5" stroke="#262626" stroke-width="1"/>
<line x1="69.5" x2="74.8" y1="513.5" y2="513.5" stroke="#262626" stroke-width="1"/>
<line x1="69.5" x2="74.8" y1="496.5" y2="496.5" stroke="#262626" stroke-width="1"/>
<line x1="69.5" x2="74.8" y1="488.5" y2="488.5" stroke="#262626" stroke-width="1"/>
<line x1="69.5" x2="74.8" y1="479.5" y2="479.5" stroke="#262626" stroke-width="1"/>
<line x1="69.5" x2="74.8" y1="471.5" y2="471.5" stroke="#262626" stroke-width="1"/>
<line x1="69.5" x2="74.8" y1="454.5" y2="454.5" stroke="#262626" stroke-width="1"/>
<line x1="69.5" x2="74.8" y1="446.5" y2="446.5" stroke="#262626" stroke-width="1"/>
<line x1="69.5" x2="74.8" y1="438.5" y2="438.5" stroke="#262626" stroke-width="1"/>
<line x1="69.5" x2="74.8" y1="429.5" y2="429.5" stroke="#262626" stroke-width="1"/>
<rect x="69.5" y="417.5" width="1025.0" height="197.0" fill="none" stroke="#222" stroke-width="1"/>
<text class="dj" x="65.2" y="596.05" font-size="18.8" fill="#000" text-anchor="end">0</text>
<text class="dj" x="65.2" y="554.30" font-size="18.8" fill="#000" text-anchor="end">5</text>
<text class="dj" x="63.6" y="512.55" font-size="18.8" fill="#000" text-anchor="end">10</text>
<text class="dj" x="63.6" y="470.80" font-size="18.8" fill="#000" text-anchor="end">15</text>
<text class="dj" x="63.6" y="429.05" font-size="18.8" fill="#000" text-anchor="end">20</text>
<text class="dj" x="69.12" y="693.0" font-size="19.44" fill="#000" text-anchor="middle">ned</text>
<text class="dj" x="147.99" y="693.0" font-size="19.44" fill="#000" text-anchor="middle">pon</text>
<text class="dj" x="226.86" y="693.0" font-size="19.44" fill="#000" text-anchor="middle">tor</text>
<text class="dj" x="305.72" y="693.0" font-size="19.44" fill="#000" text-anchor="middle">sre</text>
<text class="dj" x="384.59" y="693.0" font-size="19.44" fill="#000" text-anchor="middle">čet</text>
<text class="dj" x="463.46" y="693.0" font-size="19.44" fill="#000" text-anchor="middle">pet</text>
<text class="dj" x="542.33" y="693.0" font-size="19.44" fill="#000" text-anchor="middle">sob</text>
<text class="dj" x="621.19" y="693.0" font-size="19.44" fill="#000" text-anchor="middle">ned</text>
<text class="dj" x="700.06" y="693.0" font-size="19.44" fill="#000" text-anchor="middle">pon</text>
<text class="dj" x="778.93" y="693.0" font-size="19.44" fill="#000" text-anchor="middle">tor</text>
<text class="dj" x="857.80" y="693.0" font-size="19.44" fill="#000" text-anchor="middle">sre</text>
<text class="dj" x="936.66" y="693.0" font-size="19.44" fill="#000" text-anchor="middle">čet</text>
<text class="dj" x="1015.53" y="693.0" font-size="19.44" fill="#000" text-anchor="middle">pet</text>
<text class="dj" x="1094.40" y="693.0" font-size="19.44" fill="#000" text-anchor="middle">sob</text>
<clipPath id="pclip"><rect x="69.5" y="700.5" width="1025.0" height="198.0"/></clipPath>
<g clip-path="url(#pclip)">
<line x1="69.5" x2="1094.5" y1="835" y2="835" stroke="#000" stroke-opacity="0.15" stroke-width="2"/>
<line x1="69.5" x2="1094.5" y1="773" y2="773" stroke="#000" stroke-opacity="0.15" stroke-width="2"/>
<line x1="69.5" x2="1094.5" y1="710" y2="710" stroke="#000" stroke-opacity="0.15" stroke-width="2"/>
<line x1="227" x2="227" y1="700.5" y2="897.5" stroke="#000" stroke-opacity="0.15" stroke-width="2"/>
<line x1="385" x2="385" y1="700.5" y2="897.5" stroke="#000" stroke-opacity="0.15" stroke-width="2"/>
<line x1="542" x2="542" y1="700.5" y2="897.5" stroke="#000" stroke-opacity="0.15" stroke-width="2"/>
<line x1="700" x2="700" y1="700.5" y2="897.5" stroke="#000" stroke-opacity="0.15" stroke-width="2"/>
<line x1="858" x2="858" y1="700.5" y2="897.5" stroke="#000" stroke-opacity="0.15" stroke-width="2"/>
<line x1="1016" x2="1016" y1="700.5" y2="897.5" stroke="#000" stroke-opacity="0.15" stroke-width="2"/>
<rect x="516" y="896.1" width="52" height="1.4" fill="#0050ff"/>
<rect x="674" y="894.5" width="52" height="3.0" fill="#0050ff"/>
<rect x="753" y="819" width="52" height="78.5" fill="#0050ff"/>
<rect x="831" y="823" width="52" height="74.5" fill="#0050ff"/>
<rect x="910" y="837" width="52" height="60.5" fill="#0050ff"/>
<rect x="989" y="842" width="52" height="55.5" fill="#0050ff"/>
<rect x="1068" y="841" width="52" height="56.5" fill="#0050ff"/>
<line x1="59.10" x2="79.90" y1="896.7" y2="896.7" stroke="#3c3c3c" stroke-width="1.4"/>
<line x1="138.10" x2="158.90" y1="896.7" y2="896.7" stroke="#3c3c3c" stroke-width="1.4"/>
<line x1="217.10" x2="237.90" y1="896.7" y2="896.7" stroke="#3c3c3c" stroke-width="1.4"/>
<line x1="296.10" x2="316.90" y1="896.7" y2="896.7" stroke="#3c3c3c" stroke-width="1.4"/>
<line x1="375.10" x2="395.90" y1="896.7" y2="896.7" stroke="#3c3c3c" stroke-width="1.4"/>
<line x1="453.10" x2="473.90" y1="896.7" y2="896.7" stroke="#3c3c3c" stroke-width="1.4"/>
<line x1="542.50" x2="542.50" y1="877.96" y2="897.5" stroke="#808080" stroke-width="3"/>
<line x1="532.10" x2="552.90" y1="877.5" y2="877.5" stroke="#808080" stroke-width="3"/>
<line x1="611.10" x2="631.90" y1="896.7" y2="896.7" stroke="#3c3c3c" stroke-width="1.4"/>
<line x1="700.50" x2="700.50" y1="800.89" y2="897.5" stroke="#808080" stroke-width="3"/>
<line x1="690.10" x2="710.90" y1="800.5" y2="800.5" stroke="#808080" stroke-width="3"/>
<line x1="779.50" x2="779.50" y1="714.47" y2="897.5" stroke="#808080" stroke-width="3"/>
<line x1="769.10" x2="789.90" y1="714.5" y2="714.5" stroke="#808080" stroke-width="3"/>
<line x1="858.50" x2="858.50" y1="735.68" y2="897.5" stroke="#808080" stroke-width="3"/>
<line x1="848.10" x2="868.90" y1="735.5" y2="735.5" stroke="#808080" stroke-width="3"/>
<line x1="937.50" x2="937.50" y1="759.58" y2="897.5" stroke="#808080" stroke-width="3"/>
<line x1="927.10" x2="947.90" y1="759.5" y2="759.5" stroke="#808080" stroke-width="3"/>
<line x1="1016.50" x2="1016.50" y1="762.52" y2="897.5" stroke="#808080" stroke-width="3"/>
<line x1="1006.10" x2="1026.90" y1="762.5" y2="762.5" stroke="#808080" stroke-width="3"/>
<line x1="1094.50" x2="1094.50" y1="743.42" y2="897.5" stroke="#808080" stroke-width="3"/>
<line x1="1084.10" x2="1104.90" y1="743.5" y2="743.5" stroke="#808080" stroke-width="3"/>
</g>
<rect x="69.5" y="700.5" width="1025.0" height="197.0" fill="none" stroke="#222" stroke-width="1"/>
<text class="dj" x="63.6" y="717.7" font-size="18.8" fill="#000" text-anchor="end">30</text>
<text class="dj" x="63.6" y="780.1" font-size="18.8" fill="#000" text-anchor="end">20</text>
<text class="dj" x="63.6" y="842.8" font-size="18.8" fill="#000" text-anchor="end">10</text>
<text class="dj" x="65.2" y="893.2" font-size="18.8" fill="#000" text-anchor="end">0</text>
<text class="dj" transform="translate(69.12 926.6) scale(.975 1)" font-size="24" fill="#5fd4e6" text-anchor="middle">5%</text>
<text class="dj" transform="translate(147.99 926.6) scale(.975 1)" font-size="24" fill="#5fd4e6" text-anchor="middle">0%</text>
<text class="dj" transform="translate(226.86 926.6) scale(.975 1)" font-size="24" fill="#5fd4e6" text-anchor="middle">0%</text>
<text class="dj" transform="translate(305.72 926.6) scale(.975 1)" font-size="24" fill="#5fd4e6" text-anchor="middle">0%</text>
<text class="dj" transform="translate(384.59 926.6) scale(.975 1)" font-size="24" fill="#5fd4e6" text-anchor="middle">0%</text>
<text class="dj" transform="translate(463.46 926.6) scale(.975 1)" font-size="24" fill="#5fd4e6" text-anchor="middle">0%</text>
<text class="dj" transform="translate(542.33 926.6) scale(.975 1)" font-size="24" fill="#369ad2" text-anchor="middle">25%</text>
<text class="dj" transform="translate(621.19 926.6) scale(.975 1)" font-size="24" fill="#379bcd" text-anchor="middle">30%</text>
<text class="dj" transform="translate(700.06 926.6) scale(.975 1)" font-size="24" fill="#1c62b4" text-anchor="middle">55%</text>
<text class="dj" transform="translate(778.93 926.6) scale(.975 1)" font-size="24" fill="#1c62b4" text-anchor="middle">60%</text>
<text class="dj" transform="translate(857.80 926.6) scale(.975 1)" font-size="24" fill="#1c62b4" text-anchor="middle">60%</text>
<text class="dj" transform="translate(936.66 926.6) scale(.975 1)" font-size="24" fill="#1c62b4" text-anchor="middle">55%</text>
<text class="dj" transform="translate(1015.53 926.6) scale(.975 1)" font-size="24" fill="#1c62b4" text-anchor="middle">50%</text>
<text class="dj" transform="translate(1094.40 926.6) scale(.975 1)" font-size="24" fill="#3a9acc" text-anchor="middle">50%</text>
</svg></body></html>
